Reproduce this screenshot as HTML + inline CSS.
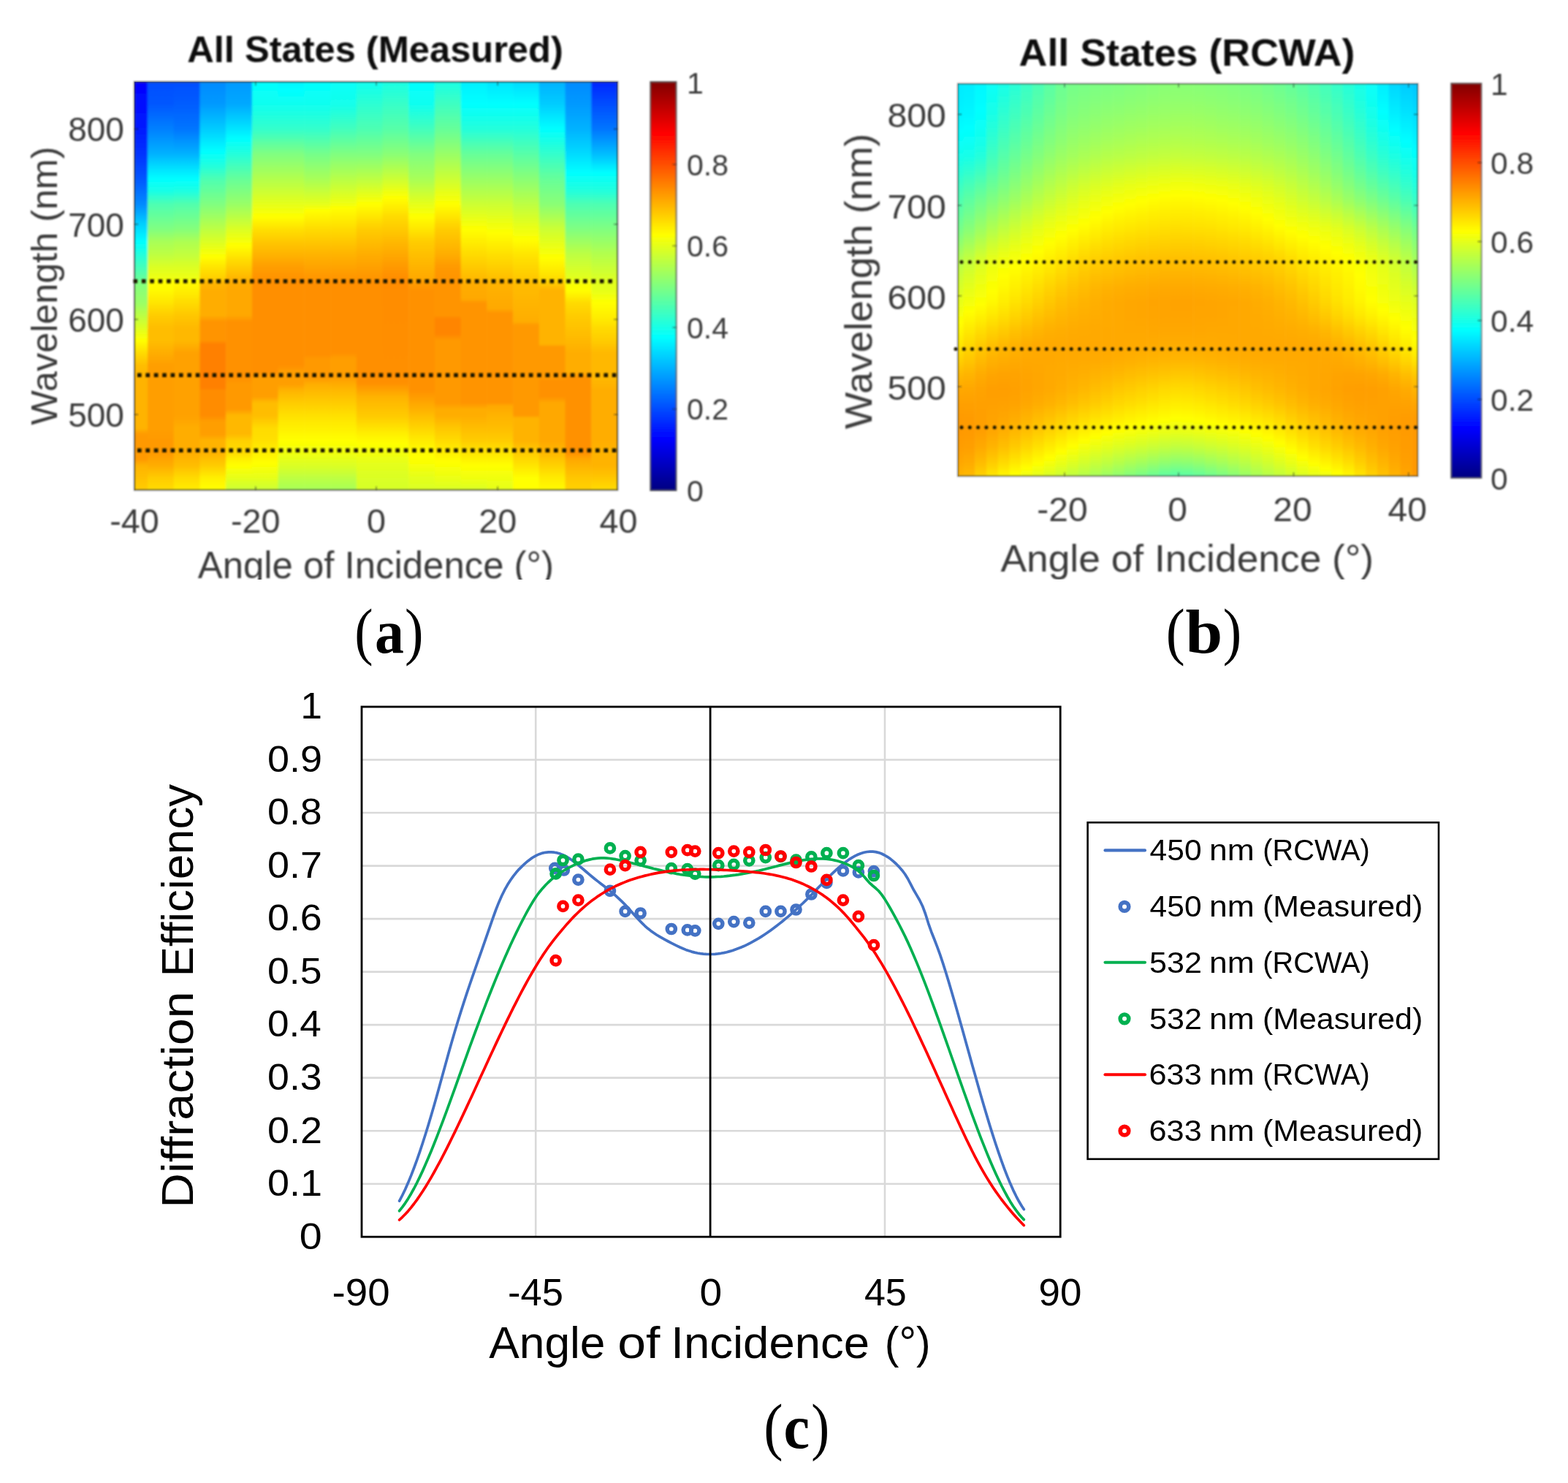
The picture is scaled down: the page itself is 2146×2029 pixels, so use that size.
<!DOCTYPE html>
<html lang="en"><head><meta charset="utf-8"><title>Diffraction efficiency figure</title>
<style>html,body{margin:0;padding:0;background:#fff}svg{display:block}text{white-space:pre}</style></head>
<body><svg width="2146" height="2029" viewBox="0 0 2146 2029">
<rect width="2146" height="2029" fill="#fff"/>
<defs><filter id="bl" x="-5%" y="-5%" width="110%" height="110%"><feGaussianBlur stdDeviation="1.6"/></filter>
<filter id="bt" x="-10%" y="-30%" width="120%" height="160%"><feGaussianBlur stdDeviation="0.9"/></filter>
<filter id="bf" x="-3%" y="-3%" width="106%" height="106%"><feGaussianBlur stdDeviation="0.9"/></filter>
<filter id="bg" x="-3%" y="-3%" width="106%" height="106%"><feGaussianBlur stdDeviation="0.8"/></filter>
<linearGradient id="jet" x1="0" y1="1" x2="0" y2="0"><stop offset="0" stop-color="#000080"/><stop offset="0.125" stop-color="#0000ff"/><stop offset="0.375" stop-color="#00ffff"/><stop offset="0.625" stop-color="#ffff00"/><stop offset="0.875" stop-color="#ff0000"/><stop offset="1" stop-color="#800000"/></linearGradient>
<clipPath id="ca"><rect x="184.0" y="112.0" width="661.2" height="558.4"/></clipPath>
<linearGradient id="a0" gradientUnits="userSpaceOnUse" x1="0" y1="100.0" x2="0" y2="682.4"><stop offset="0" stop-color="#0000ff"/><stop offset="0.0202" stop-color="#0000ff"/><stop offset="0.1314" stop-color="#001aff"/><stop offset="0.1903" stop-color="#0033ff"/><stop offset="0.2491" stop-color="#0057ff"/><stop offset="0.308" stop-color="#008aff"/><stop offset="0.3521" stop-color="#00ccff"/><stop offset="0.3963" stop-color="#00ffff"/><stop offset="0.4404" stop-color="#33ffcc"/><stop offset="0.4846" stop-color="#66ff99"/><stop offset="0.489" stop-color="#80ff80"/><stop offset="0.5396" stop-color="#99ff66"/><stop offset="0.5838" stop-color="#ccff33"/><stop offset="0.6279" stop-color="#ffff00"/><stop offset="0.6573" stop-color="#ffdb00"/><stop offset="0.6868" stop-color="#ffbd00"/><stop offset="0.7162" stop-color="#ffb300"/><stop offset="0.8339" stop-color="#ffb300"/><stop offset="0.8486" stop-color="#ff9900"/><stop offset="0.9075" stop-color="#ff9900"/><stop offset="0.9222" stop-color="#ffb300"/><stop offset="0.9781" stop-color="#ffcc00"/><stop offset="1" stop-color="#ffcc00"/></linearGradient>
<linearGradient id="a1" gradientUnits="userSpaceOnUse" x1="0" y1="100.0" x2="0" y2="682.4"><stop offset="0" stop-color="#004dff"/><stop offset="0.0202" stop-color="#004dff"/><stop offset="0.0726" stop-color="#0057ff"/><stop offset="0.1314" stop-color="#0080ff"/><stop offset="0.1903" stop-color="#00b2ff"/><stop offset="0.2197" stop-color="#00dbff"/><stop offset="0.2491" stop-color="#00ffff"/><stop offset="0.2786" stop-color="#1affe5"/><stop offset="0.308" stop-color="#4dffb2"/><stop offset="0.3669" stop-color="#80ff80"/><stop offset="0.3963" stop-color="#a8ff57"/><stop offset="0.4257" stop-color="#bdff42"/><stop offset="0.4551" stop-color="#dbff24"/><stop offset="0.4846" stop-color="#f0ff0f"/><stop offset="0.489" stop-color="#ffff00"/><stop offset="0.5102" stop-color="#fffa00"/><stop offset="0.5396" stop-color="#ffe500"/><stop offset="0.569" stop-color="#ffcc00"/><stop offset="0.5985" stop-color="#ffbd00"/><stop offset="0.6279" stop-color="#ffbd00"/><stop offset="0.6573" stop-color="#ffad00"/><stop offset="0.6868" stop-color="#ff9e00"/><stop offset="0.8339" stop-color="#ff9e00"/><stop offset="0.8633" stop-color="#ff9900"/><stop offset="0.8927" stop-color="#ff9900"/><stop offset="0.9222" stop-color="#ffad00"/><stop offset="0.9516" stop-color="#ffcc00"/><stop offset="0.9781" stop-color="#ffdb00"/><stop offset="1" stop-color="#ffdb00"/></linearGradient>
<linearGradient id="a2" gradientUnits="userSpaceOnUse" x1="0" y1="100.0" x2="0" y2="682.4"><stop offset="0" stop-color="#004dff"/><stop offset="0.0202" stop-color="#004dff"/><stop offset="0.0726" stop-color="#005cff"/><stop offset="0.1314" stop-color="#0075ff"/><stop offset="0.1903" stop-color="#00b2ff"/><stop offset="0.2197" stop-color="#00dbff"/><stop offset="0.2491" stop-color="#00ffff"/><stop offset="0.2786" stop-color="#1fffe0"/><stop offset="0.308" stop-color="#52ffad"/><stop offset="0.3669" stop-color="#85ff7a"/><stop offset="0.3963" stop-color="#adff52"/><stop offset="0.4257" stop-color="#c2ff3d"/><stop offset="0.4551" stop-color="#dbff24"/><stop offset="0.4846" stop-color="#f0ff0f"/><stop offset="0.4879" stop-color="#ffff00"/><stop offset="0.489" stop-color="#fffa00"/><stop offset="0.5102" stop-color="#fff000"/><stop offset="0.5396" stop-color="#ffdb00"/><stop offset="0.569" stop-color="#ffc700"/><stop offset="0.5985" stop-color="#ffb800"/><stop offset="0.6279" stop-color="#ffb800"/><stop offset="0.6573" stop-color="#ffa100"/><stop offset="0.8045" stop-color="#ffa100"/><stop offset="0.8339" stop-color="#ffad00"/><stop offset="0.8927" stop-color="#ffad00"/><stop offset="0.9222" stop-color="#ffbd00"/><stop offset="0.9516" stop-color="#ffdb00"/><stop offset="0.9781" stop-color="#ffeb00"/><stop offset="1" stop-color="#ffeb00"/></linearGradient>
<linearGradient id="a3" gradientUnits="userSpaceOnUse" x1="0" y1="100.0" x2="0" y2="682.4"><stop offset="0" stop-color="#008aff"/><stop offset="0.0202" stop-color="#008aff"/><stop offset="0.0726" stop-color="#0099ff"/><stop offset="0.1314" stop-color="#00ccff"/><stop offset="0.1844" stop-color="#00ffff"/><stop offset="0.2197" stop-color="#24ffdb"/><stop offset="0.2491" stop-color="#4dffb2"/><stop offset="0.308" stop-color="#80ff80"/><stop offset="0.3669" stop-color="#bdff42"/><stop offset="0.3963" stop-color="#dbff24"/><stop offset="0.4316" stop-color="#ffff00"/><stop offset="0.4551" stop-color="#ffe500"/><stop offset="0.4846" stop-color="#ffcc00"/><stop offset="0.489" stop-color="#ffb800"/><stop offset="0.5102" stop-color="#ffad00"/><stop offset="0.569" stop-color="#ffad00"/><stop offset="0.5838" stop-color="#ff9400"/><stop offset="0.6279" stop-color="#ff9400"/><stop offset="0.6367" stop-color="#ff8000"/><stop offset="0.7397" stop-color="#ff8000"/><stop offset="0.7456" stop-color="#ff8c00"/><stop offset="0.8045" stop-color="#ff8c00"/><stop offset="0.8192" stop-color="#ff9e00"/><stop offset="0.8486" stop-color="#ff9e00"/><stop offset="0.8633" stop-color="#ffb300"/><stop offset="0.8927" stop-color="#ffb300"/><stop offset="0.9222" stop-color="#ffcc00"/><stop offset="0.9516" stop-color="#fff000"/><stop offset="0.9781" stop-color="#ffff00"/><stop offset="1" stop-color="#ffff00"/></linearGradient>
<linearGradient id="a4" gradientUnits="userSpaceOnUse" x1="0" y1="100.0" x2="0" y2="682.4"><stop offset="0" stop-color="#0099ff"/><stop offset="0.0202" stop-color="#0099ff"/><stop offset="0.0726" stop-color="#00a8ff"/><stop offset="0.1314" stop-color="#00e5ff"/><stop offset="0.155" stop-color="#00ffff"/><stop offset="0.1903" stop-color="#24ffdb"/><stop offset="0.2491" stop-color="#66ff99"/><stop offset="0.308" stop-color="#99ff66"/><stop offset="0.3669" stop-color="#dbff24"/><stop offset="0.4051" stop-color="#ffff00"/><stop offset="0.4404" stop-color="#ffdb00"/><stop offset="0.4846" stop-color="#ffb300"/><stop offset="0.489" stop-color="#ffad00"/><stop offset="0.5102" stop-color="#ffa800"/><stop offset="0.569" stop-color="#ffa800"/><stop offset="0.5838" stop-color="#ff9100"/><stop offset="0.7162" stop-color="#ff9100"/><stop offset="0.7309" stop-color="#ff9900"/><stop offset="0.7897" stop-color="#ff9900"/><stop offset="0.8045" stop-color="#ffb800"/><stop offset="0.8486" stop-color="#ffb800"/><stop offset="0.8633" stop-color="#ffd100"/><stop offset="0.8927" stop-color="#ffdb00"/><stop offset="0.9075" stop-color="#fff000"/><stop offset="0.9222" stop-color="#ffff00"/><stop offset="0.9516" stop-color="#e5ff1a"/><stop offset="0.9781" stop-color="#ccff33"/><stop offset="1" stop-color="#ccff33"/></linearGradient>
<linearGradient id="a5" gradientUnits="userSpaceOnUse" x1="0" y1="100.0" x2="0" y2="682.4"><stop offset="0" stop-color="#00ffff"/><stop offset="0.0202" stop-color="#00ffff"/><stop offset="0.0726" stop-color="#0ffff0"/><stop offset="0.1314" stop-color="#33ffcc"/><stop offset="0.1903" stop-color="#80ff80"/><stop offset="0.2491" stop-color="#b3ff4c"/><stop offset="0.2786" stop-color="#ccff33"/><stop offset="0.308" stop-color="#e5ff1a"/><stop offset="0.3374" stop-color="#ffff00"/><stop offset="0.3669" stop-color="#ffe000"/><stop offset="0.3963" stop-color="#ffc700"/><stop offset="0.4257" stop-color="#ffb300"/><stop offset="0.4551" stop-color="#ff9e00"/><stop offset="0.4846" stop-color="#ff9100"/><stop offset="0.489" stop-color="#ff8f00"/><stop offset="0.7015" stop-color="#ff8f00"/><stop offset="0.7162" stop-color="#ff9e00"/><stop offset="0.7603" stop-color="#ff9e00"/><stop offset="0.775" stop-color="#ffbd00"/><stop offset="0.8045" stop-color="#ffbd00"/><stop offset="0.8339" stop-color="#ffdb00"/><stop offset="0.8633" stop-color="#ffe000"/><stop offset="0.8927" stop-color="#fff000"/><stop offset="0.9163" stop-color="#ffff00"/><stop offset="0.9516" stop-color="#e5ff1a"/><stop offset="0.9781" stop-color="#ccff33"/><stop offset="1" stop-color="#ccff33"/></linearGradient>
<linearGradient id="a6" gradientUnits="userSpaceOnUse" x1="0" y1="100.0" x2="0" y2="682.4"><stop offset="0" stop-color="#00f5ff"/><stop offset="0.0202" stop-color="#00f5ff"/><stop offset="0.0412" stop-color="#00ffff"/><stop offset="0.0726" stop-color="#0ffff0"/><stop offset="0.1314" stop-color="#33ffcc"/><stop offset="0.1903" stop-color="#80ff80"/><stop offset="0.2491" stop-color="#b3ff4c"/><stop offset="0.2786" stop-color="#ccff33"/><stop offset="0.308" stop-color="#e5ff1a"/><stop offset="0.3374" stop-color="#ffff00"/><stop offset="0.3669" stop-color="#ffe000"/><stop offset="0.3963" stop-color="#ffc700"/><stop offset="0.4257" stop-color="#ffb300"/><stop offset="0.4551" stop-color="#ff9e00"/><stop offset="0.4846" stop-color="#ff9100"/><stop offset="0.489" stop-color="#ff8f00"/><stop offset="0.6868" stop-color="#ff8f00"/><stop offset="0.7015" stop-color="#ff9e00"/><stop offset="0.7309" stop-color="#ff9e00"/><stop offset="0.7456" stop-color="#ffb300"/><stop offset="0.775" stop-color="#ffcc00"/><stop offset="0.8045" stop-color="#ffe000"/><stop offset="0.8339" stop-color="#fff000"/><stop offset="0.8633" stop-color="#ffff00"/><stop offset="0.8927" stop-color="#f0ff0f"/><stop offset="0.9222" stop-color="#dbff24"/><stop offset="0.9516" stop-color="#bdff42"/><stop offset="0.9781" stop-color="#a8ff57"/><stop offset="1" stop-color="#a8ff57"/></linearGradient>
<linearGradient id="a7" gradientUnits="userSpaceOnUse" x1="0" y1="100.0" x2="0" y2="682.4"><stop offset="0" stop-color="#00ffff"/><stop offset="0.0202" stop-color="#00ffff"/><stop offset="0.0726" stop-color="#0ffff0"/><stop offset="0.1314" stop-color="#33ffcc"/><stop offset="0.1903" stop-color="#75ff8a"/><stop offset="0.2491" stop-color="#a8ff57"/><stop offset="0.308" stop-color="#e5ff1a"/><stop offset="0.3227" stop-color="#ffff00"/><stop offset="0.3669" stop-color="#ffdb00"/><stop offset="0.4257" stop-color="#ffb300"/><stop offset="0.4846" stop-color="#ff9400"/><stop offset="0.489" stop-color="#ff8f00"/><stop offset="0.6632" stop-color="#ff8f00"/><stop offset="0.672" stop-color="#ff9900"/><stop offset="0.7162" stop-color="#ff9900"/><stop offset="0.7309" stop-color="#ffad00"/><stop offset="0.7456" stop-color="#ffb800"/><stop offset="0.775" stop-color="#ffcc00"/><stop offset="0.8045" stop-color="#ffe000"/><stop offset="0.8339" stop-color="#fff000"/><stop offset="0.8633" stop-color="#ffff00"/><stop offset="0.8927" stop-color="#f0ff0f"/><stop offset="0.9222" stop-color="#dbff24"/><stop offset="0.9516" stop-color="#bdff42"/><stop offset="0.9781" stop-color="#a8ff57"/><stop offset="1" stop-color="#a8ff57"/></linearGradient>
<linearGradient id="a8" gradientUnits="userSpaceOnUse" x1="0" y1="100.0" x2="0" y2="682.4"><stop offset="0" stop-color="#05fffa"/><stop offset="0.0202" stop-color="#05fffa"/><stop offset="0.0726" stop-color="#14ffeb"/><stop offset="0.1314" stop-color="#42ffbd"/><stop offset="0.1903" stop-color="#80ff80"/><stop offset="0.2491" stop-color="#b8ff47"/><stop offset="0.308" stop-color="#f0ff0f"/><stop offset="0.3168" stop-color="#ffff00"/><stop offset="0.3669" stop-color="#ffdb00"/><stop offset="0.4257" stop-color="#ffb300"/><stop offset="0.4846" stop-color="#ff9400"/><stop offset="0.489" stop-color="#ff8f00"/><stop offset="0.6573" stop-color="#ff8f00"/><stop offset="0.672" stop-color="#ff9e00"/><stop offset="0.7162" stop-color="#ff9e00"/><stop offset="0.7456" stop-color="#ffb800"/><stop offset="0.775" stop-color="#ffcc00"/><stop offset="0.8045" stop-color="#ffe000"/><stop offset="0.8339" stop-color="#fff000"/><stop offset="0.8633" stop-color="#ffff00"/><stop offset="0.8927" stop-color="#f0ff0f"/><stop offset="0.9222" stop-color="#dbff24"/><stop offset="0.9516" stop-color="#bdff42"/><stop offset="0.9781" stop-color="#a8ff57"/><stop offset="1" stop-color="#a8ff57"/></linearGradient>
<linearGradient id="a9" gradientUnits="userSpaceOnUse" x1="0" y1="100.0" x2="0" y2="682.4"><stop offset="0" stop-color="#0ffff0"/><stop offset="0.0202" stop-color="#0ffff0"/><stop offset="0.1314" stop-color="#4dffb2"/><stop offset="0.1903" stop-color="#80ff80"/><stop offset="0.2491" stop-color="#bdff42"/><stop offset="0.308" stop-color="#ffff00"/><stop offset="0.3669" stop-color="#ffcc00"/><stop offset="0.4257" stop-color="#ffad00"/><stop offset="0.4846" stop-color="#ff9400"/><stop offset="0.489" stop-color="#ff8f00"/><stop offset="0.728" stop-color="#ff8f00"/><stop offset="0.7612" stop-color="#ffb300"/><stop offset="0.808" stop-color="#ffcc00"/><stop offset="0.8545" stop-color="#fff500"/><stop offset="0.8701" stop-color="#ffff00"/><stop offset="0.9169" stop-color="#e5ff1a"/><stop offset="0.9481" stop-color="#dbff24"/><stop offset="0.9781" stop-color="#d6ff29"/><stop offset="1" stop-color="#d6ff29"/></linearGradient>
<linearGradient id="a10" gradientUnits="userSpaceOnUse" x1="0" y1="100.0" x2="0" y2="682.4"><stop offset="0" stop-color="#1affe5"/><stop offset="0.0202" stop-color="#1affe5"/><stop offset="0.1314" stop-color="#57ffa8"/><stop offset="0.1903" stop-color="#8aff75"/><stop offset="0.2491" stop-color="#ccff33"/><stop offset="0.2933" stop-color="#ffff00"/><stop offset="0.3374" stop-color="#ffdb00"/><stop offset="0.3963" stop-color="#ffb800"/><stop offset="0.4551" stop-color="#ff9900"/><stop offset="0.4846" stop-color="#ff8c00"/><stop offset="0.489" stop-color="#ff8c00"/><stop offset="0.728" stop-color="#ff8f00"/><stop offset="0.7612" stop-color="#ffb300"/><stop offset="0.808" stop-color="#ffcc00"/><stop offset="0.8545" stop-color="#fff500"/><stop offset="0.8701" stop-color="#ffff00"/><stop offset="0.9169" stop-color="#e5ff1a"/><stop offset="0.9481" stop-color="#dbff24"/><stop offset="0.9781" stop-color="#d6ff29"/><stop offset="1" stop-color="#d6ff29"/></linearGradient>
<linearGradient id="a11" gradientUnits="userSpaceOnUse" x1="0" y1="100.0" x2="0" y2="682.4"><stop offset="0" stop-color="#00ffff"/><stop offset="0.0202" stop-color="#00ffff"/><stop offset="0.0726" stop-color="#0ffff0"/><stop offset="0.1314" stop-color="#42ffbd"/><stop offset="0.1903" stop-color="#80ff80"/><stop offset="0.2491" stop-color="#a8ff57"/><stop offset="0.308" stop-color="#e5ff1a"/><stop offset="0.3374" stop-color="#ffff00"/><stop offset="0.3963" stop-color="#ffcc00"/><stop offset="0.4551" stop-color="#ffb300"/><stop offset="0.4846" stop-color="#ffa800"/><stop offset="0.489" stop-color="#ff9e00"/><stop offset="0.5102" stop-color="#ff9100"/><stop offset="0.7456" stop-color="#ff9100"/><stop offset="0.7924" stop-color="#ffb300"/><stop offset="0.8236" stop-color="#ffcc00"/><stop offset="0.8545" stop-color="#ffe500"/><stop offset="0.8857" stop-color="#fffa00"/><stop offset="0.9013" stop-color="#ffff00"/><stop offset="0.9169" stop-color="#faff05"/><stop offset="0.9481" stop-color="#e5ff1a"/><stop offset="0.9781" stop-color="#dbff24"/><stop offset="1" stop-color="#dbff24"/></linearGradient>
<linearGradient id="a12" gradientUnits="userSpaceOnUse" x1="0" y1="100.0" x2="0" y2="682.4"><stop offset="0" stop-color="#1affe5"/><stop offset="0.0202" stop-color="#1affe5"/><stop offset="0.1314" stop-color="#66ff99"/><stop offset="0.1903" stop-color="#99ff66"/><stop offset="0.2491" stop-color="#ccff33"/><stop offset="0.308" stop-color="#ffff00"/><stop offset="0.3669" stop-color="#ffcc00"/><stop offset="0.4257" stop-color="#ffad00"/><stop offset="0.4551" stop-color="#ff9900"/><stop offset="0.4846" stop-color="#ff9400"/><stop offset="0.489" stop-color="#ff9400"/><stop offset="0.569" stop-color="#ff9400"/><stop offset="0.5779" stop-color="#ff8500"/><stop offset="0.6132" stop-color="#ff8500"/><stop offset="0.6279" stop-color="#ff9900"/><stop offset="0.775" stop-color="#ff9900"/><stop offset="0.7897" stop-color="#ffad00"/><stop offset="0.8045" stop-color="#ffad00"/><stop offset="0.8339" stop-color="#ffc700"/><stop offset="0.8633" stop-color="#ffdb00"/><stop offset="0.8927" stop-color="#fff000"/><stop offset="0.9133" stop-color="#ffff00"/><stop offset="0.9516" stop-color="#ebff14"/><stop offset="0.9781" stop-color="#dbff24"/><stop offset="1" stop-color="#dbff24"/></linearGradient>
<linearGradient id="a13" gradientUnits="userSpaceOnUse" x1="0" y1="100.0" x2="0" y2="682.4"><stop offset="0" stop-color="#00f0ff"/><stop offset="0.0202" stop-color="#00f0ff"/><stop offset="0.0726" stop-color="#00ffff"/><stop offset="0.1314" stop-color="#24ffdb"/><stop offset="0.1903" stop-color="#66ff99"/><stop offset="0.2491" stop-color="#99ff66"/><stop offset="0.308" stop-color="#ccff33"/><stop offset="0.3669" stop-color="#ffff00"/><stop offset="0.4257" stop-color="#ffdb00"/><stop offset="0.4846" stop-color="#ffb800"/><stop offset="0.489" stop-color="#ffad00"/><stop offset="0.5308" stop-color="#ffa800"/><stop offset="0.5396" stop-color="#ff9400"/><stop offset="0.775" stop-color="#ff9400"/><stop offset="0.7897" stop-color="#ffad00"/><stop offset="0.8045" stop-color="#ffad00"/><stop offset="0.8339" stop-color="#ffbd00"/><stop offset="0.8633" stop-color="#ffcc00"/><stop offset="0.8927" stop-color="#ffe500"/><stop offset="0.9222" stop-color="#ffff00"/><stop offset="0.9516" stop-color="#f0ff0f"/><stop offset="0.9781" stop-color="#dbff24"/><stop offset="1" stop-color="#dbff24"/></linearGradient>
<linearGradient id="a14" gradientUnits="userSpaceOnUse" x1="0" y1="100.0" x2="0" y2="682.4"><stop offset="0" stop-color="#00e5ff"/><stop offset="0.0202" stop-color="#00e5ff"/><stop offset="0.0726" stop-color="#00ffff"/><stop offset="0.1314" stop-color="#24ffdb"/><stop offset="0.1903" stop-color="#66ff99"/><stop offset="0.2491" stop-color="#99ff66"/><stop offset="0.308" stop-color="#ccff33"/><stop offset="0.3757" stop-color="#ffff00"/><stop offset="0.4257" stop-color="#ffe000"/><stop offset="0.4846" stop-color="#ffbd00"/><stop offset="0.489" stop-color="#ffb300"/><stop offset="0.5543" stop-color="#ffa800"/><stop offset="0.5632" stop-color="#ff9400"/><stop offset="0.775" stop-color="#ff9400"/><stop offset="0.7809" stop-color="#ffa800"/><stop offset="0.8045" stop-color="#ffb300"/><stop offset="0.8339" stop-color="#ffbd00"/><stop offset="0.8633" stop-color="#ffcc00"/><stop offset="0.8927" stop-color="#ffe500"/><stop offset="0.9222" stop-color="#ffff00"/><stop offset="0.9516" stop-color="#f0ff0f"/><stop offset="0.9781" stop-color="#e5ff1a"/><stop offset="1" stop-color="#e5ff1a"/></linearGradient>
<linearGradient id="a15" gradientUnits="userSpaceOnUse" x1="0" y1="100.0" x2="0" y2="682.4"><stop offset="0" stop-color="#00dbff"/><stop offset="0.0202" stop-color="#00dbff"/><stop offset="0.0726" stop-color="#00ffff"/><stop offset="0.1314" stop-color="#24ffdb"/><stop offset="0.1903" stop-color="#57ffa8"/><stop offset="0.2491" stop-color="#8aff75"/><stop offset="0.308" stop-color="#bdff42"/><stop offset="0.3904" stop-color="#ffff00"/><stop offset="0.4257" stop-color="#ffe500"/><stop offset="0.4846" stop-color="#ffc700"/><stop offset="0.489" stop-color="#ffbd00"/><stop offset="0.5838" stop-color="#ffad00"/><stop offset="0.5926" stop-color="#ff9900"/><stop offset="0.8045" stop-color="#ff9900"/><stop offset="0.8103" stop-color="#ffb300"/><stop offset="0.8633" stop-color="#ffb300"/><stop offset="0.8927" stop-color="#ffcc00"/><stop offset="0.9222" stop-color="#ffe500"/><stop offset="0.9516" stop-color="#ffff00"/><stop offset="0.9781" stop-color="#ffff00"/><stop offset="1" stop-color="#ffff00"/></linearGradient>
<linearGradient id="a16" gradientUnits="userSpaceOnUse" x1="0" y1="100.0" x2="0" y2="682.4"><stop offset="0" stop-color="#00b2ff"/><stop offset="0.0202" stop-color="#00b2ff"/><stop offset="0.0726" stop-color="#00ccff"/><stop offset="0.1314" stop-color="#00ffff"/><stop offset="0.1903" stop-color="#33ffcc"/><stop offset="0.2491" stop-color="#66ff99"/><stop offset="0.308" stop-color="#8aff75"/><stop offset="0.3669" stop-color="#ccff33"/><stop offset="0.4345" stop-color="#ffff00"/><stop offset="0.4846" stop-color="#ffdb00"/><stop offset="0.489" stop-color="#ffd100"/><stop offset="0.5102" stop-color="#ffb300"/><stop offset="0.6367" stop-color="#ffb300"/><stop offset="0.6426" stop-color="#ff9900"/><stop offset="0.7162" stop-color="#ff9900"/><stop offset="0.7221" stop-color="#ff9100"/><stop offset="0.7603" stop-color="#ff9100"/><stop offset="0.775" stop-color="#ffa800"/><stop offset="0.8633" stop-color="#ffa800"/><stop offset="0.8927" stop-color="#ffb800"/><stop offset="0.9222" stop-color="#ffd100"/><stop offset="0.9516" stop-color="#ffeb00"/><stop offset="0.9781" stop-color="#fffa00"/><stop offset="1" stop-color="#fffa00"/></linearGradient>
<linearGradient id="a17" gradientUnits="userSpaceOnUse" x1="0" y1="100.0" x2="0" y2="682.4"><stop offset="0" stop-color="#008aff"/><stop offset="0.0202" stop-color="#008aff"/><stop offset="0.0726" stop-color="#0099ff"/><stop offset="0.1314" stop-color="#00b2ff"/><stop offset="0.1903" stop-color="#00dbff"/><stop offset="0.2344" stop-color="#00ffff"/><stop offset="0.2786" stop-color="#24ffdb"/><stop offset="0.308" stop-color="#4dffb2"/><stop offset="0.3669" stop-color="#80ff80"/><stop offset="0.4257" stop-color="#bdff42"/><stop offset="0.4846" stop-color="#e5ff1a"/><stop offset="0.489" stop-color="#f5ff0a"/><stop offset="0.5102" stop-color="#ffff00"/><stop offset="0.5396" stop-color="#ffdb00"/><stop offset="0.569" stop-color="#ffcc00"/><stop offset="0.6279" stop-color="#ffb800"/><stop offset="0.6573" stop-color="#ffad00"/><stop offset="0.7015" stop-color="#ffad00"/><stop offset="0.7162" stop-color="#ff9100"/><stop offset="0.8927" stop-color="#ff9100"/><stop offset="0.9075" stop-color="#ffa800"/><stop offset="0.9222" stop-color="#ffb300"/><stop offset="0.9516" stop-color="#ffc700"/><stop offset="0.9781" stop-color="#ffd100"/><stop offset="1" stop-color="#ffd100"/></linearGradient>
<linearGradient id="a18" gradientUnits="userSpaceOnUse" x1="0" y1="100.0" x2="0" y2="682.4"><stop offset="0" stop-color="#0024ff"/><stop offset="0.0202" stop-color="#0024ff"/><stop offset="0.0726" stop-color="#004dff"/><stop offset="0.1314" stop-color="#0075ff"/><stop offset="0.1903" stop-color="#00bdff"/><stop offset="0.2344" stop-color="#00ffff"/><stop offset="0.2786" stop-color="#24ffdb"/><stop offset="0.308" stop-color="#4dffb2"/><stop offset="0.3669" stop-color="#80ff80"/><stop offset="0.4257" stop-color="#b3ff4c"/><stop offset="0.4846" stop-color="#dbff24"/><stop offset="0.489" stop-color="#e0ff1f"/><stop offset="0.5102" stop-color="#e5ff1a"/><stop offset="0.5396" stop-color="#ffff00"/><stop offset="0.569" stop-color="#fff000"/><stop offset="0.5985" stop-color="#ffdb00"/><stop offset="0.6279" stop-color="#ffcc00"/><stop offset="0.6573" stop-color="#ffb800"/><stop offset="0.7162" stop-color="#ffb800"/><stop offset="0.7456" stop-color="#ffad00"/><stop offset="0.8633" stop-color="#ffad00"/><stop offset="0.8927" stop-color="#ffb300"/><stop offset="0.9222" stop-color="#ffb300"/><stop offset="0.9516" stop-color="#ffc700"/><stop offset="0.9781" stop-color="#ffdb00"/><stop offset="1" stop-color="#ffdb00"/></linearGradient>
<clipPath id="cl"><rect x="0" y="0" width="2146" height="793"/></clipPath>
<clipPath id="cb"><rect x="1311.0" y="114.6" width="629.4" height="536.8"/></clipPath>
<linearGradient id="b0" gradientUnits="userSpaceOnUse" x1="0" y1="102.6" x2="0" y2="663.4"><stop offset="0" stop-color="#00ebff"/><stop offset="0.0221" stop-color="#00ebff"/><stop offset="0.0575" stop-color="#00eeff"/><stop offset="0.0929" stop-color="#00f4ff"/><stop offset="0.1283" stop-color="#00fcff"/><stop offset="0.1376" stop-color="#00ffff"/><stop offset="0.1637" stop-color="#07fff8"/><stop offset="0.1991" stop-color="#14ffeb"/><stop offset="0.2346" stop-color="#26ffd9"/><stop offset="0.27" stop-color="#3bffc4"/><stop offset="0.3054" stop-color="#4fffb0"/><stop offset="0.3408" stop-color="#62ff9d"/><stop offset="0.3762" stop-color="#77ff88"/><stop offset="0.4116" stop-color="#93ff6c"/><stop offset="0.4471" stop-color="#b1ff4e"/><stop offset="0.4825" stop-color="#c7ff38"/><stop offset="0.5179" stop-color="#d8ff27"/><stop offset="0.5533" stop-color="#e8ff17"/><stop offset="0.5887" stop-color="#f8ff07"/><stop offset="0.6034" stop-color="#ffff00"/><stop offset="0.6241" stop-color="#fff600"/><stop offset="0.6596" stop-color="#ffe500"/><stop offset="0.695" stop-color="#ffd000"/><stop offset="0.7304" stop-color="#ffb900"/><stop offset="0.7658" stop-color="#ffa800"/><stop offset="0.8012" stop-color="#ffa000"/><stop offset="0.8366" stop-color="#ff9a00"/><stop offset="0.8721" stop-color="#ff9900"/><stop offset="0.9075" stop-color="#ff9d00"/><stop offset="0.9429" stop-color="#ffa600"/><stop offset="0.9783" stop-color="#ffb300"/><stop offset="1" stop-color="#ffb300"/></linearGradient>
<linearGradient id="b1" gradientUnits="userSpaceOnUse" x1="0" y1="102.6" x2="0" y2="663.4"><stop offset="0" stop-color="#00eeff"/><stop offset="0.0221" stop-color="#00eeff"/><stop offset="0.0575" stop-color="#00f1ff"/><stop offset="0.0929" stop-color="#00f6ff"/><stop offset="0.1283" stop-color="#00ffff"/><stop offset="0.1284" stop-color="#00ffff"/><stop offset="0.1637" stop-color="#0afff5"/><stop offset="0.1991" stop-color="#18ffe7"/><stop offset="0.2346" stop-color="#2fffd0"/><stop offset="0.27" stop-color="#48ffb7"/><stop offset="0.3054" stop-color="#5effa1"/><stop offset="0.3408" stop-color="#72ff8d"/><stop offset="0.3762" stop-color="#88ff77"/><stop offset="0.4116" stop-color="#a4ff5b"/><stop offset="0.4471" stop-color="#c1ff3e"/><stop offset="0.4825" stop-color="#d5ff2a"/><stop offset="0.5179" stop-color="#e4ff1b"/><stop offset="0.5533" stop-color="#f3ff0c"/><stop offset="0.5774" stop-color="#ffff00"/><stop offset="0.5887" stop-color="#fffa00"/><stop offset="0.6241" stop-color="#ffe800"/><stop offset="0.6596" stop-color="#ffd700"/><stop offset="0.695" stop-color="#ffc600"/><stop offset="0.7304" stop-color="#ffb400"/><stop offset="0.7658" stop-color="#ffa700"/><stop offset="0.8012" stop-color="#ffa000"/><stop offset="0.8366" stop-color="#ff9b00"/><stop offset="0.8721" stop-color="#ff9a00"/><stop offset="0.9075" stop-color="#ff9f00"/><stop offset="0.9429" stop-color="#ffaa00"/><stop offset="0.9783" stop-color="#ffb900"/><stop offset="1" stop-color="#ffb900"/></linearGradient>
<linearGradient id="b2" gradientUnits="userSpaceOnUse" x1="0" y1="102.6" x2="0" y2="663.4"><stop offset="0" stop-color="#00f8ff"/><stop offset="0.0221" stop-color="#00f8ff"/><stop offset="0.0575" stop-color="#00fbff"/><stop offset="0.0828" stop-color="#00ffff"/><stop offset="0.0929" stop-color="#02fffd"/><stop offset="0.1283" stop-color="#0bfff4"/><stop offset="0.1637" stop-color="#15ffea"/><stop offset="0.1991" stop-color="#24ffdb"/><stop offset="0.2346" stop-color="#3cffc3"/><stop offset="0.27" stop-color="#57ffa8"/><stop offset="0.3054" stop-color="#6fff90"/><stop offset="0.3408" stop-color="#85ff7a"/><stop offset="0.3762" stop-color="#9cff63"/><stop offset="0.4116" stop-color="#b8ff47"/><stop offset="0.4471" stop-color="#d4ff2b"/><stop offset="0.4825" stop-color="#e4ff1b"/><stop offset="0.5179" stop-color="#f0ff0f"/><stop offset="0.5533" stop-color="#fcff03"/><stop offset="0.5591" stop-color="#ffff00"/><stop offset="0.5887" stop-color="#fff100"/><stop offset="0.6241" stop-color="#ffdd00"/><stop offset="0.6596" stop-color="#ffca00"/><stop offset="0.695" stop-color="#ffba00"/><stop offset="0.7304" stop-color="#ffab00"/><stop offset="0.7658" stop-color="#ffa300"/><stop offset="0.8012" stop-color="#ffa000"/><stop offset="0.8366" stop-color="#ff9f00"/><stop offset="0.8721" stop-color="#ff9f00"/><stop offset="0.9075" stop-color="#ffa900"/><stop offset="0.9429" stop-color="#ffba00"/><stop offset="0.9783" stop-color="#ffd100"/><stop offset="1" stop-color="#ffd100"/></linearGradient>
<linearGradient id="b3" gradientUnits="userSpaceOnUse" x1="0" y1="102.6" x2="0" y2="663.4"><stop offset="0" stop-color="#07fff8"/><stop offset="0.0221" stop-color="#07fff8"/><stop offset="0.0575" stop-color="#0ffff0"/><stop offset="0.0929" stop-color="#18ffe7"/><stop offset="0.1283" stop-color="#24ffdb"/><stop offset="0.1637" stop-color="#31ffce"/><stop offset="0.1991" stop-color="#41ffbe"/><stop offset="0.2346" stop-color="#54ffab"/><stop offset="0.27" stop-color="#6aff95"/><stop offset="0.3054" stop-color="#80ff7f"/><stop offset="0.3408" stop-color="#98ff67"/><stop offset="0.3762" stop-color="#b0ff4f"/><stop offset="0.4116" stop-color="#ccff33"/><stop offset="0.4471" stop-color="#e5ff1a"/><stop offset="0.4825" stop-color="#f3ff0c"/><stop offset="0.5179" stop-color="#fcff03"/><stop offset="0.5282" stop-color="#ffff00"/><stop offset="0.5533" stop-color="#fff800"/><stop offset="0.5887" stop-color="#ffe700"/><stop offset="0.6241" stop-color="#ffd200"/><stop offset="0.6596" stop-color="#ffbf00"/><stop offset="0.695" stop-color="#ffb100"/><stop offset="0.7304" stop-color="#ffa500"/><stop offset="0.7658" stop-color="#ff9f00"/><stop offset="0.8012" stop-color="#ffa000"/><stop offset="0.8366" stop-color="#ffa300"/><stop offset="0.8721" stop-color="#ffa700"/><stop offset="0.9075" stop-color="#ffb400"/><stop offset="0.9429" stop-color="#ffca00"/><stop offset="0.9783" stop-color="#ffe500"/><stop offset="1" stop-color="#ffe500"/></linearGradient>
<linearGradient id="b4" gradientUnits="userSpaceOnUse" x1="0" y1="102.6" x2="0" y2="663.4"><stop offset="0" stop-color="#17ffe8"/><stop offset="0.0221" stop-color="#17ffe8"/><stop offset="0.0575" stop-color="#21ffde"/><stop offset="0.0929" stop-color="#2dffd2"/><stop offset="0.1283" stop-color="#39ffc6"/><stop offset="0.1637" stop-color="#47ffb8"/><stop offset="0.1991" stop-color="#56ffa9"/><stop offset="0.2346" stop-color="#67ff98"/><stop offset="0.27" stop-color="#7aff85"/><stop offset="0.3054" stop-color="#8fff70"/><stop offset="0.3408" stop-color="#a7ff58"/><stop offset="0.3762" stop-color="#c0ff3f"/><stop offset="0.4116" stop-color="#d9ff26"/><stop offset="0.4471" stop-color="#efff10"/><stop offset="0.4825" stop-color="#fdff02"/><stop offset="0.4902" stop-color="#ffff00"/><stop offset="0.5179" stop-color="#fff800"/><stop offset="0.5533" stop-color="#ffed00"/><stop offset="0.5887" stop-color="#ffde00"/><stop offset="0.6241" stop-color="#ffca00"/><stop offset="0.6596" stop-color="#ffb800"/><stop offset="0.695" stop-color="#ffad00"/><stop offset="0.7304" stop-color="#ffa300"/><stop offset="0.7658" stop-color="#ff9e00"/><stop offset="0.8012" stop-color="#ffa100"/><stop offset="0.8366" stop-color="#ffa600"/><stop offset="0.8721" stop-color="#ffaf00"/><stop offset="0.9075" stop-color="#ffbf00"/><stop offset="0.9429" stop-color="#ffd800"/><stop offset="0.9783" stop-color="#fff600"/><stop offset="1" stop-color="#fff600"/></linearGradient>
<linearGradient id="b5" gradientUnits="userSpaceOnUse" x1="0" y1="102.6" x2="0" y2="663.4"><stop offset="0" stop-color="#28ffd7"/><stop offset="0.0221" stop-color="#28ffd7"/><stop offset="0.0575" stop-color="#32ffcd"/><stop offset="0.0929" stop-color="#3effc1"/><stop offset="0.1283" stop-color="#4bffb4"/><stop offset="0.1637" stop-color="#58ffa7"/><stop offset="0.1991" stop-color="#67ff98"/><stop offset="0.2346" stop-color="#78ff87"/><stop offset="0.27" stop-color="#8aff75"/><stop offset="0.3054" stop-color="#9eff61"/><stop offset="0.3408" stop-color="#b7ff48"/><stop offset="0.3762" stop-color="#ceff31"/><stop offset="0.4116" stop-color="#e4ff1b"/><stop offset="0.4471" stop-color="#f6ff09"/><stop offset="0.469" stop-color="#ffff00"/><stop offset="0.4825" stop-color="#fffa00"/><stop offset="0.5179" stop-color="#ffef00"/><stop offset="0.5533" stop-color="#ffe300"/><stop offset="0.5887" stop-color="#ffd400"/><stop offset="0.6241" stop-color="#ffc100"/><stop offset="0.6596" stop-color="#ffb200"/><stop offset="0.695" stop-color="#ffaa00"/><stop offset="0.7304" stop-color="#ffa300"/><stop offset="0.7658" stop-color="#ffa000"/><stop offset="0.8012" stop-color="#ffa300"/><stop offset="0.8366" stop-color="#ffac00"/><stop offset="0.8721" stop-color="#ffb800"/><stop offset="0.9075" stop-color="#ffcb00"/><stop offset="0.9429" stop-color="#ffe500"/><stop offset="0.9723" stop-color="#ffff00"/><stop offset="0.9783" stop-color="#faff05"/><stop offset="1" stop-color="#faff05"/></linearGradient>
<linearGradient id="b6" gradientUnits="userSpaceOnUse" x1="0" y1="102.6" x2="0" y2="663.4"><stop offset="0" stop-color="#39ffc6"/><stop offset="0.0221" stop-color="#39ffc6"/><stop offset="0.0575" stop-color="#42ffbd"/><stop offset="0.0929" stop-color="#4dffb2"/><stop offset="0.1283" stop-color="#5affa5"/><stop offset="0.1637" stop-color="#67ff98"/><stop offset="0.1991" stop-color="#76ff89"/><stop offset="0.2346" stop-color="#87ff78"/><stop offset="0.27" stop-color="#99ff66"/><stop offset="0.3054" stop-color="#adff52"/><stop offset="0.3408" stop-color="#c5ff3a"/><stop offset="0.3762" stop-color="#dbff24"/><stop offset="0.4116" stop-color="#eeff11"/><stop offset="0.4471" stop-color="#feff01"/><stop offset="0.45" stop-color="#ffff00"/><stop offset="0.4825" stop-color="#fff200"/><stop offset="0.5179" stop-color="#ffe600"/><stop offset="0.5533" stop-color="#ffda00"/><stop offset="0.5887" stop-color="#ffcb00"/><stop offset="0.6241" stop-color="#ffba00"/><stop offset="0.6596" stop-color="#ffad00"/><stop offset="0.695" stop-color="#ffa800"/><stop offset="0.7304" stop-color="#ffa400"/><stop offset="0.7658" stop-color="#ffa300"/><stop offset="0.8012" stop-color="#ffa700"/><stop offset="0.8366" stop-color="#ffb300"/><stop offset="0.8721" stop-color="#ffc100"/><stop offset="0.9075" stop-color="#ffd600"/><stop offset="0.9429" stop-color="#fff000"/><stop offset="0.9594" stop-color="#ffff00"/><stop offset="0.9783" stop-color="#eeff11"/><stop offset="1" stop-color="#eeff11"/></linearGradient>
<linearGradient id="b7" gradientUnits="userSpaceOnUse" x1="0" y1="102.6" x2="0" y2="663.4"><stop offset="0" stop-color="#4affb5"/><stop offset="0.0221" stop-color="#4affb5"/><stop offset="0.0575" stop-color="#53ffac"/><stop offset="0.0929" stop-color="#5dffa2"/><stop offset="0.1283" stop-color="#69ff96"/><stop offset="0.1637" stop-color="#76ff89"/><stop offset="0.1991" stop-color="#84ff7b"/><stop offset="0.2346" stop-color="#95ff6a"/><stop offset="0.27" stop-color="#a7ff58"/><stop offset="0.3054" stop-color="#bbff44"/><stop offset="0.3408" stop-color="#d1ff2e"/><stop offset="0.3762" stop-color="#e6ff19"/><stop offset="0.4116" stop-color="#f7ff08"/><stop offset="0.4306" stop-color="#ffff00"/><stop offset="0.4471" stop-color="#fff800"/><stop offset="0.4825" stop-color="#ffea00"/><stop offset="0.5179" stop-color="#ffdd00"/><stop offset="0.5533" stop-color="#ffd000"/><stop offset="0.5887" stop-color="#ffc200"/><stop offset="0.6241" stop-color="#ffb400"/><stop offset="0.6596" stop-color="#ffaa00"/><stop offset="0.695" stop-color="#ffa800"/><stop offset="0.7304" stop-color="#ffa600"/><stop offset="0.7658" stop-color="#ffa600"/><stop offset="0.8012" stop-color="#ffac00"/><stop offset="0.8366" stop-color="#ffbb00"/><stop offset="0.8721" stop-color="#ffcb00"/><stop offset="0.9075" stop-color="#ffe100"/><stop offset="0.9429" stop-color="#fffb00"/><stop offset="0.9471" stop-color="#ffff00"/><stop offset="0.9783" stop-color="#e4ff1b"/><stop offset="1" stop-color="#e4ff1b"/></linearGradient>
<linearGradient id="b8" gradientUnits="userSpaceOnUse" x1="0" y1="102.6" x2="0" y2="663.4"><stop offset="0" stop-color="#5bffa4"/><stop offset="0.0221" stop-color="#5bffa4"/><stop offset="0.0575" stop-color="#62ff9d"/><stop offset="0.0929" stop-color="#6cff93"/><stop offset="0.1283" stop-color="#77ff88"/><stop offset="0.1637" stop-color="#83ff7c"/><stop offset="0.1991" stop-color="#91ff6e"/><stop offset="0.2346" stop-color="#a2ff5d"/><stop offset="0.27" stop-color="#b4ff4b"/><stop offset="0.3054" stop-color="#c7ff38"/><stop offset="0.3408" stop-color="#dcff23"/><stop offset="0.3762" stop-color="#efff10"/><stop offset="0.4103" stop-color="#ffff00"/><stop offset="0.4116" stop-color="#fffe00"/><stop offset="0.4471" stop-color="#fff000"/><stop offset="0.4825" stop-color="#ffe200"/><stop offset="0.5179" stop-color="#ffd300"/><stop offset="0.5533" stop-color="#ffc700"/><stop offset="0.5887" stop-color="#ffbb00"/><stop offset="0.6241" stop-color="#ffaf00"/><stop offset="0.6596" stop-color="#ffa900"/><stop offset="0.695" stop-color="#ffa800"/><stop offset="0.7304" stop-color="#ffa900"/><stop offset="0.7658" stop-color="#ffa900"/><stop offset="0.8012" stop-color="#ffb100"/><stop offset="0.8366" stop-color="#ffc200"/><stop offset="0.8721" stop-color="#ffd500"/><stop offset="0.9075" stop-color="#ffeb00"/><stop offset="0.9332" stop-color="#ffff00"/><stop offset="0.9429" stop-color="#f8ff07"/><stop offset="0.9783" stop-color="#d8ff27"/><stop offset="1" stop-color="#d8ff27"/></linearGradient>
<linearGradient id="b9" gradientUnits="userSpaceOnUse" x1="0" y1="102.6" x2="0" y2="663.4"><stop offset="0" stop-color="#6cff93"/><stop offset="0.0221" stop-color="#6cff93"/><stop offset="0.0575" stop-color="#71ff8e"/><stop offset="0.0929" stop-color="#79ff86"/><stop offset="0.1283" stop-color="#83ff7c"/><stop offset="0.1637" stop-color="#8eff71"/><stop offset="0.1991" stop-color="#9cff63"/><stop offset="0.2346" stop-color="#adff52"/><stop offset="0.27" stop-color="#bfff40"/><stop offset="0.3054" stop-color="#d2ff2d"/><stop offset="0.3408" stop-color="#e5ff1a"/><stop offset="0.3762" stop-color="#f7ff08"/><stop offset="0.3938" stop-color="#ffff00"/><stop offset="0.4116" stop-color="#fff700"/><stop offset="0.4471" stop-color="#ffe800"/><stop offset="0.4825" stop-color="#ffd900"/><stop offset="0.5179" stop-color="#ffca00"/><stop offset="0.5533" stop-color="#ffbe00"/><stop offset="0.5887" stop-color="#ffb500"/><stop offset="0.6241" stop-color="#ffad00"/><stop offset="0.6596" stop-color="#ffa900"/><stop offset="0.695" stop-color="#ffa900"/><stop offset="0.7304" stop-color="#ffaa00"/><stop offset="0.7658" stop-color="#ffad00"/><stop offset="0.8012" stop-color="#ffb700"/><stop offset="0.8366" stop-color="#ffca00"/><stop offset="0.8721" stop-color="#ffde00"/><stop offset="0.9075" stop-color="#fff600"/><stop offset="0.9189" stop-color="#ffff00"/><stop offset="0.9429" stop-color="#ecff13"/><stop offset="0.9783" stop-color="#cdff32"/><stop offset="1" stop-color="#cdff32"/></linearGradient>
<linearGradient id="b10" gradientUnits="userSpaceOnUse" x1="0" y1="102.6" x2="0" y2="663.4"><stop offset="0" stop-color="#76ff89"/><stop offset="0.0221" stop-color="#76ff89"/><stop offset="0.0575" stop-color="#7bff84"/><stop offset="0.0929" stop-color="#82ff7d"/><stop offset="0.1283" stop-color="#8cff73"/><stop offset="0.1637" stop-color="#97ff68"/><stop offset="0.1991" stop-color="#a4ff5b"/><stop offset="0.2346" stop-color="#b6ff49"/><stop offset="0.27" stop-color="#caff35"/><stop offset="0.3054" stop-color="#dcff23"/><stop offset="0.3408" stop-color="#edff12"/><stop offset="0.3762" stop-color="#feff01"/><stop offset="0.3791" stop-color="#ffff00"/><stop offset="0.4116" stop-color="#ffef00"/><stop offset="0.4471" stop-color="#ffdf00"/><stop offset="0.4825" stop-color="#ffd000"/><stop offset="0.5179" stop-color="#ffc200"/><stop offset="0.5533" stop-color="#ffb800"/><stop offset="0.5887" stop-color="#ffb100"/><stop offset="0.6241" stop-color="#ffab00"/><stop offset="0.6596" stop-color="#ffa800"/><stop offset="0.695" stop-color="#ffa900"/><stop offset="0.7304" stop-color="#ffad00"/><stop offset="0.7658" stop-color="#ffb200"/><stop offset="0.8012" stop-color="#ffbe00"/><stop offset="0.8366" stop-color="#ffd200"/><stop offset="0.8721" stop-color="#ffe800"/><stop offset="0.905" stop-color="#ffff00"/><stop offset="0.9075" stop-color="#fdff02"/><stop offset="0.9429" stop-color="#e1ff1e"/><stop offset="0.9783" stop-color="#c0ff3f"/><stop offset="1" stop-color="#c0ff3f"/></linearGradient>
<linearGradient id="b11" gradientUnits="userSpaceOnUse" x1="0" y1="102.6" x2="0" y2="663.4"><stop offset="0" stop-color="#79ff86"/><stop offset="0.0221" stop-color="#79ff86"/><stop offset="0.0575" stop-color="#7fff80"/><stop offset="0.0929" stop-color="#87ff78"/><stop offset="0.1283" stop-color="#91ff6e"/><stop offset="0.1637" stop-color="#9dff62"/><stop offset="0.1991" stop-color="#abff54"/><stop offset="0.2346" stop-color="#beff41"/><stop offset="0.27" stop-color="#d3ff2c"/><stop offset="0.3054" stop-color="#e5ff1a"/><stop offset="0.3408" stop-color="#f5ff0a"/><stop offset="0.3638" stop-color="#ffff00"/><stop offset="0.3762" stop-color="#fff900"/><stop offset="0.4116" stop-color="#ffe700"/><stop offset="0.4471" stop-color="#ffd600"/><stop offset="0.4825" stop-color="#ffc800"/><stop offset="0.5179" stop-color="#ffbc00"/><stop offset="0.5533" stop-color="#ffb300"/><stop offset="0.5887" stop-color="#ffae00"/><stop offset="0.6241" stop-color="#ffaa00"/><stop offset="0.6596" stop-color="#ffa800"/><stop offset="0.695" stop-color="#ffaa00"/><stop offset="0.7304" stop-color="#ffaf00"/><stop offset="0.7658" stop-color="#ffb700"/><stop offset="0.8012" stop-color="#ffc500"/><stop offset="0.8366" stop-color="#ffda00"/><stop offset="0.8721" stop-color="#fff100"/><stop offset="0.8914" stop-color="#ffff00"/><stop offset="0.9075" stop-color="#f3ff0c"/><stop offset="0.9429" stop-color="#d5ff2a"/><stop offset="0.9783" stop-color="#b4ff4b"/><stop offset="1" stop-color="#b4ff4b"/></linearGradient>
<linearGradient id="b12" gradientUnits="userSpaceOnUse" x1="0" y1="102.6" x2="0" y2="663.4"><stop offset="0" stop-color="#7cff83"/><stop offset="0.0221" stop-color="#7cff83"/><stop offset="0.0575" stop-color="#82ff7d"/><stop offset="0.0929" stop-color="#8bff74"/><stop offset="0.1283" stop-color="#95ff6a"/><stop offset="0.1637" stop-color="#a2ff5d"/><stop offset="0.1991" stop-color="#b1ff4e"/><stop offset="0.2346" stop-color="#c5ff3a"/><stop offset="0.27" stop-color="#daff25"/><stop offset="0.3054" stop-color="#ecff13"/><stop offset="0.3408" stop-color="#fcff03"/><stop offset="0.348" stop-color="#ffff00"/><stop offset="0.3762" stop-color="#fff200"/><stop offset="0.4116" stop-color="#ffe100"/><stop offset="0.4471" stop-color="#ffd000"/><stop offset="0.4825" stop-color="#ffc200"/><stop offset="0.5179" stop-color="#ffb600"/><stop offset="0.5533" stop-color="#ffaf00"/><stop offset="0.5887" stop-color="#ffac00"/><stop offset="0.6241" stop-color="#ffa900"/><stop offset="0.6596" stop-color="#ffa800"/><stop offset="0.695" stop-color="#ffaa00"/><stop offset="0.7304" stop-color="#ffb200"/><stop offset="0.7658" stop-color="#ffbd00"/><stop offset="0.8012" stop-color="#ffcb00"/><stop offset="0.8366" stop-color="#ffe100"/><stop offset="0.8721" stop-color="#fff800"/><stop offset="0.8808" stop-color="#ffff00"/><stop offset="0.9075" stop-color="#eaff15"/><stop offset="0.9429" stop-color="#cbff34"/><stop offset="0.9783" stop-color="#a8ff57"/><stop offset="1" stop-color="#a8ff57"/></linearGradient>
<linearGradient id="b13" gradientUnits="userSpaceOnUse" x1="0" y1="102.6" x2="0" y2="663.4"><stop offset="0" stop-color="#7dff82"/><stop offset="0.0221" stop-color="#7dff82"/><stop offset="0.0575" stop-color="#84ff7b"/><stop offset="0.0929" stop-color="#8eff71"/><stop offset="0.1283" stop-color="#99ff66"/><stop offset="0.1637" stop-color="#a6ff59"/><stop offset="0.1991" stop-color="#b6ff49"/><stop offset="0.2346" stop-color="#caff35"/><stop offset="0.27" stop-color="#dfff20"/><stop offset="0.3054" stop-color="#f2ff0d"/><stop offset="0.3345" stop-color="#ffff00"/><stop offset="0.3408" stop-color="#fffc00"/><stop offset="0.3762" stop-color="#ffec00"/><stop offset="0.4116" stop-color="#ffdc00"/><stop offset="0.4471" stop-color="#ffcc00"/><stop offset="0.4825" stop-color="#ffbf00"/><stop offset="0.5179" stop-color="#ffb200"/><stop offset="0.5533" stop-color="#ffab00"/><stop offset="0.5887" stop-color="#ffaa00"/><stop offset="0.6241" stop-color="#ffa900"/><stop offset="0.6596" stop-color="#ffa900"/><stop offset="0.695" stop-color="#ffab00"/><stop offset="0.7304" stop-color="#ffb500"/><stop offset="0.7658" stop-color="#ffc100"/><stop offset="0.8012" stop-color="#ffd100"/><stop offset="0.8366" stop-color="#ffe600"/><stop offset="0.8721" stop-color="#fffe00"/><stop offset="0.8729" stop-color="#ffff00"/><stop offset="0.9075" stop-color="#e3ff1c"/><stop offset="0.9429" stop-color="#c2ff3d"/><stop offset="0.9783" stop-color="#9cff63"/><stop offset="1" stop-color="#9cff63"/></linearGradient>
<linearGradient id="b14" gradientUnits="userSpaceOnUse" x1="0" y1="102.6" x2="0" y2="663.4"><stop offset="0" stop-color="#7fff80"/><stop offset="0.0221" stop-color="#7fff80"/><stop offset="0.0575" stop-color="#86ff79"/><stop offset="0.0929" stop-color="#90ff6f"/><stop offset="0.1283" stop-color="#9cff63"/><stop offset="0.1637" stop-color="#a9ff56"/><stop offset="0.1991" stop-color="#b9ff46"/><stop offset="0.2346" stop-color="#ceff31"/><stop offset="0.27" stop-color="#e4ff1b"/><stop offset="0.3054" stop-color="#f6ff09"/><stop offset="0.3243" stop-color="#ffff00"/><stop offset="0.3408" stop-color="#fff700"/><stop offset="0.3762" stop-color="#ffe800"/><stop offset="0.4116" stop-color="#ffd800"/><stop offset="0.4471" stop-color="#ffc900"/><stop offset="0.4825" stop-color="#ffbc00"/><stop offset="0.5179" stop-color="#ffaf00"/><stop offset="0.5533" stop-color="#ffa900"/><stop offset="0.5887" stop-color="#ffa900"/><stop offset="0.6241" stop-color="#ffa900"/><stop offset="0.6596" stop-color="#ffa900"/><stop offset="0.695" stop-color="#ffad00"/><stop offset="0.7304" stop-color="#ffb800"/><stop offset="0.7658" stop-color="#ffc700"/><stop offset="0.8012" stop-color="#ffd700"/><stop offset="0.8366" stop-color="#ffeb00"/><stop offset="0.8653" stop-color="#ffff00"/><stop offset="0.8721" stop-color="#faff05"/><stop offset="0.9075" stop-color="#dcff23"/><stop offset="0.9429" stop-color="#b8ff47"/><stop offset="0.9783" stop-color="#90ff6f"/><stop offset="1" stop-color="#90ff6f"/></linearGradient>
<linearGradient id="b15" gradientUnits="userSpaceOnUse" x1="0" y1="102.6" x2="0" y2="663.4"><stop offset="0" stop-color="#82ff7d"/><stop offset="0.0221" stop-color="#82ff7d"/><stop offset="0.0575" stop-color="#89ff76"/><stop offset="0.0929" stop-color="#93ff6c"/><stop offset="0.1283" stop-color="#9fff60"/><stop offset="0.1637" stop-color="#acff53"/><stop offset="0.1991" stop-color="#bcff43"/><stop offset="0.2346" stop-color="#d2ff2d"/><stop offset="0.27" stop-color="#e8ff17"/><stop offset="0.3054" stop-color="#faff05"/><stop offset="0.316" stop-color="#ffff00"/><stop offset="0.3408" stop-color="#fff400"/><stop offset="0.3762" stop-color="#ffe500"/><stop offset="0.4116" stop-color="#ffd500"/><stop offset="0.4471" stop-color="#ffc600"/><stop offset="0.4825" stop-color="#ffb900"/><stop offset="0.5179" stop-color="#ffad00"/><stop offset="0.5533" stop-color="#ffa700"/><stop offset="0.5887" stop-color="#ffa700"/><stop offset="0.6241" stop-color="#ffa800"/><stop offset="0.6596" stop-color="#ffaa00"/><stop offset="0.695" stop-color="#ffaf00"/><stop offset="0.7304" stop-color="#ffbc00"/><stop offset="0.7658" stop-color="#ffcb00"/><stop offset="0.8012" stop-color="#ffdc00"/><stop offset="0.8366" stop-color="#fff000"/><stop offset="0.8586" stop-color="#ffff00"/><stop offset="0.8721" stop-color="#f6ff09"/><stop offset="0.9075" stop-color="#d6ff29"/><stop offset="0.9429" stop-color="#afff50"/><stop offset="0.9783" stop-color="#83ff7c"/><stop offset="1" stop-color="#83ff7c"/></linearGradient>
<linearGradient id="b16" gradientUnits="userSpaceOnUse" x1="0" y1="102.6" x2="0" y2="663.4"><stop offset="0" stop-color="#84ff7b"/><stop offset="0.0221" stop-color="#84ff7b"/><stop offset="0.0575" stop-color="#8bff74"/><stop offset="0.0929" stop-color="#95ff6a"/><stop offset="0.1283" stop-color="#a1ff5e"/><stop offset="0.1637" stop-color="#afff50"/><stop offset="0.1991" stop-color="#bfff40"/><stop offset="0.2346" stop-color="#d5ff2a"/><stop offset="0.27" stop-color="#ebff14"/><stop offset="0.3054" stop-color="#feff01"/><stop offset="0.3086" stop-color="#ffff00"/><stop offset="0.3408" stop-color="#fff100"/><stop offset="0.3762" stop-color="#ffe200"/><stop offset="0.4116" stop-color="#ffd200"/><stop offset="0.4471" stop-color="#ffc300"/><stop offset="0.4825" stop-color="#ffb700"/><stop offset="0.5179" stop-color="#ffac00"/><stop offset="0.5533" stop-color="#ffa600"/><stop offset="0.5887" stop-color="#ffa600"/><stop offset="0.6241" stop-color="#ffa800"/><stop offset="0.6596" stop-color="#ffaa00"/><stop offset="0.695" stop-color="#ffb100"/><stop offset="0.7304" stop-color="#ffbf00"/><stop offset="0.7658" stop-color="#ffd000"/><stop offset="0.8012" stop-color="#ffe000"/><stop offset="0.8366" stop-color="#fff400"/><stop offset="0.8524" stop-color="#ffff00"/><stop offset="0.8721" stop-color="#f1ff0e"/><stop offset="0.9075" stop-color="#d0ff2f"/><stop offset="0.9429" stop-color="#a7ff58"/><stop offset="0.9783" stop-color="#78ff87"/><stop offset="1" stop-color="#78ff87"/></linearGradient>
<linearGradient id="b17" gradientUnits="userSpaceOnUse" x1="0" y1="102.6" x2="0" y2="663.4"><stop offset="0" stop-color="#87ff78"/><stop offset="0.0221" stop-color="#87ff78"/><stop offset="0.0575" stop-color="#8eff71"/><stop offset="0.0929" stop-color="#98ff67"/><stop offset="0.1283" stop-color="#a4ff5b"/><stop offset="0.1637" stop-color="#b1ff4e"/><stop offset="0.1991" stop-color="#c2ff3d"/><stop offset="0.2346" stop-color="#d8ff27"/><stop offset="0.27" stop-color="#eeff11"/><stop offset="0.3021" stop-color="#ffff00"/><stop offset="0.3054" stop-color="#fffd00"/><stop offset="0.3408" stop-color="#ffee00"/><stop offset="0.3762" stop-color="#ffe000"/><stop offset="0.4116" stop-color="#ffd000"/><stop offset="0.4471" stop-color="#ffc200"/><stop offset="0.4825" stop-color="#ffb600"/><stop offset="0.5179" stop-color="#ffaa00"/><stop offset="0.5533" stop-color="#ffa400"/><stop offset="0.5887" stop-color="#ffa500"/><stop offset="0.6241" stop-color="#ffa700"/><stop offset="0.6596" stop-color="#ffab00"/><stop offset="0.695" stop-color="#ffb300"/><stop offset="0.7304" stop-color="#ffc200"/><stop offset="0.7658" stop-color="#ffd400"/><stop offset="0.8012" stop-color="#ffe500"/><stop offset="0.8366" stop-color="#fff800"/><stop offset="0.8463" stop-color="#ffff00"/><stop offset="0.8721" stop-color="#edff12"/><stop offset="0.9075" stop-color="#caff35"/><stop offset="0.9429" stop-color="#9eff61"/><stop offset="0.9783" stop-color="#6bff94"/><stop offset="1" stop-color="#6bff94"/></linearGradient>
<linearGradient id="b18" gradientUnits="userSpaceOnUse" x1="0" y1="102.6" x2="0" y2="663.4"><stop offset="0" stop-color="#89ff76"/><stop offset="0.0221" stop-color="#89ff76"/><stop offset="0.0575" stop-color="#90ff6f"/><stop offset="0.0929" stop-color="#99ff66"/><stop offset="0.1283" stop-color="#a5ff5a"/><stop offset="0.1637" stop-color="#b3ff4c"/><stop offset="0.1991" stop-color="#c4ff3b"/><stop offset="0.2346" stop-color="#daff25"/><stop offset="0.27" stop-color="#f1ff0e"/><stop offset="0.2965" stop-color="#ffff00"/><stop offset="0.3054" stop-color="#fffa00"/><stop offset="0.3408" stop-color="#ffec00"/><stop offset="0.3762" stop-color="#ffde00"/><stop offset="0.4116" stop-color="#ffcf00"/><stop offset="0.4471" stop-color="#ffc000"/><stop offset="0.4825" stop-color="#ffb400"/><stop offset="0.5179" stop-color="#ffa900"/><stop offset="0.5533" stop-color="#ffa400"/><stop offset="0.5887" stop-color="#ffa400"/><stop offset="0.6241" stop-color="#ffa700"/><stop offset="0.6596" stop-color="#ffac00"/><stop offset="0.695" stop-color="#ffb400"/><stop offset="0.7304" stop-color="#ffc500"/><stop offset="0.7658" stop-color="#ffd900"/><stop offset="0.8012" stop-color="#ffe900"/><stop offset="0.8366" stop-color="#fffc00"/><stop offset="0.8402" stop-color="#ffff00"/><stop offset="0.8721" stop-color="#e8ff17"/><stop offset="0.9075" stop-color="#c4ff3b"/><stop offset="0.9429" stop-color="#95ff6a"/><stop offset="0.9783" stop-color="#5effa1"/><stop offset="1" stop-color="#5effa1"/></linearGradient>
<linearGradient id="b19" gradientUnits="userSpaceOnUse" x1="0" y1="102.6" x2="0" y2="663.4"><stop offset="0" stop-color="#8aff75"/><stop offset="0.0221" stop-color="#8aff75"/><stop offset="0.0575" stop-color="#90ff6f"/><stop offset="0.0929" stop-color="#9aff65"/><stop offset="0.1283" stop-color="#a6ff59"/><stop offset="0.1637" stop-color="#b4ff4b"/><stop offset="0.1991" stop-color="#c5ff3a"/><stop offset="0.2346" stop-color="#dcff23"/><stop offset="0.27" stop-color="#f3ff0c"/><stop offset="0.2935" stop-color="#ffff00"/><stop offset="0.3054" stop-color="#fff900"/><stop offset="0.3408" stop-color="#ffeb00"/><stop offset="0.3762" stop-color="#ffdd00"/><stop offset="0.4116" stop-color="#ffce00"/><stop offset="0.4471" stop-color="#ffc000"/><stop offset="0.4825" stop-color="#ffb400"/><stop offset="0.5179" stop-color="#ffa900"/><stop offset="0.5533" stop-color="#ffa300"/><stop offset="0.5887" stop-color="#ffa400"/><stop offset="0.6241" stop-color="#ffa700"/><stop offset="0.6596" stop-color="#ffac00"/><stop offset="0.695" stop-color="#ffb500"/><stop offset="0.7304" stop-color="#ffc700"/><stop offset="0.7658" stop-color="#ffdb00"/><stop offset="0.8012" stop-color="#ffec00"/><stop offset="0.8366" stop-color="#ffff00"/><stop offset="0.837" stop-color="#ffff00"/><stop offset="0.8721" stop-color="#e6ff19"/><stop offset="0.9075" stop-color="#c0ff3f"/><stop offset="0.9429" stop-color="#90ff6f"/><stop offset="0.9783" stop-color="#57ffa8"/><stop offset="1" stop-color="#57ffa8"/></linearGradient>
<linearGradient id="b20" gradientUnits="userSpaceOnUse" x1="0" y1="102.6" x2="0" y2="663.4"><stop offset="0" stop-color="#89ff76"/><stop offset="0.0221" stop-color="#89ff76"/><stop offset="0.0575" stop-color="#90ff6f"/><stop offset="0.0929" stop-color="#9aff65"/><stop offset="0.1283" stop-color="#a6ff59"/><stop offset="0.1637" stop-color="#b3ff4c"/><stop offset="0.1991" stop-color="#c4ff3b"/><stop offset="0.2346" stop-color="#dbff24"/><stop offset="0.27" stop-color="#f3ff0c"/><stop offset="0.2943" stop-color="#ffff00"/><stop offset="0.3054" stop-color="#fff900"/><stop offset="0.3408" stop-color="#ffeb00"/><stop offset="0.3762" stop-color="#ffde00"/><stop offset="0.4116" stop-color="#ffce00"/><stop offset="0.4471" stop-color="#ffc000"/><stop offset="0.4825" stop-color="#ffb400"/><stop offset="0.5179" stop-color="#ffa900"/><stop offset="0.5533" stop-color="#ffa300"/><stop offset="0.5887" stop-color="#ffa400"/><stop offset="0.6241" stop-color="#ffa700"/><stop offset="0.6596" stop-color="#ffac00"/><stop offset="0.695" stop-color="#ffb500"/><stop offset="0.7304" stop-color="#ffc700"/><stop offset="0.7658" stop-color="#ffda00"/><stop offset="0.8012" stop-color="#ffeb00"/><stop offset="0.8366" stop-color="#fffe00"/><stop offset="0.8382" stop-color="#ffff00"/><stop offset="0.8721" stop-color="#e7ff18"/><stop offset="0.9075" stop-color="#c1ff3e"/><stop offset="0.9429" stop-color="#92ff6d"/><stop offset="0.9783" stop-color="#5affa5"/><stop offset="1" stop-color="#5affa5"/></linearGradient>
<linearGradient id="b21" gradientUnits="userSpaceOnUse" x1="0" y1="102.6" x2="0" y2="663.4"><stop offset="0" stop-color="#88ff77"/><stop offset="0.0221" stop-color="#88ff77"/><stop offset="0.0575" stop-color="#8fff70"/><stop offset="0.0929" stop-color="#99ff66"/><stop offset="0.1283" stop-color="#a5ff5a"/><stop offset="0.1637" stop-color="#b2ff4d"/><stop offset="0.1991" stop-color="#c3ff3c"/><stop offset="0.2346" stop-color="#daff25"/><stop offset="0.27" stop-color="#f1ff0e"/><stop offset="0.297" stop-color="#ffff00"/><stop offset="0.3054" stop-color="#fffb00"/><stop offset="0.3408" stop-color="#ffec00"/><stop offset="0.3762" stop-color="#ffdf00"/><stop offset="0.4116" stop-color="#ffcf00"/><stop offset="0.4471" stop-color="#ffc100"/><stop offset="0.4825" stop-color="#ffb500"/><stop offset="0.5179" stop-color="#ffaa00"/><stop offset="0.5533" stop-color="#ffa400"/><stop offset="0.5887" stop-color="#ffa500"/><stop offset="0.6241" stop-color="#ffa700"/><stop offset="0.6596" stop-color="#ffab00"/><stop offset="0.695" stop-color="#ffb400"/><stop offset="0.7304" stop-color="#ffc400"/><stop offset="0.7658" stop-color="#ffd700"/><stop offset="0.8012" stop-color="#ffe800"/><stop offset="0.8366" stop-color="#fffb00"/><stop offset="0.8425" stop-color="#ffff00"/><stop offset="0.8721" stop-color="#eaff15"/><stop offset="0.9075" stop-color="#c6ff39"/><stop offset="0.9429" stop-color="#98ff67"/><stop offset="0.9783" stop-color="#63ff9c"/><stop offset="1" stop-color="#63ff9c"/></linearGradient>
<linearGradient id="b22" gradientUnits="userSpaceOnUse" x1="0" y1="102.6" x2="0" y2="663.4"><stop offset="0" stop-color="#86ff79"/><stop offset="0.0221" stop-color="#86ff79"/><stop offset="0.0575" stop-color="#8dff72"/><stop offset="0.0929" stop-color="#97ff68"/><stop offset="0.1283" stop-color="#a3ff5c"/><stop offset="0.1637" stop-color="#b0ff4f"/><stop offset="0.1991" stop-color="#c1ff3e"/><stop offset="0.2346" stop-color="#d8ff27"/><stop offset="0.27" stop-color="#efff10"/><stop offset="0.3009" stop-color="#ffff00"/><stop offset="0.3054" stop-color="#fffd00"/><stop offset="0.3408" stop-color="#ffee00"/><stop offset="0.3762" stop-color="#ffe000"/><stop offset="0.4116" stop-color="#ffd100"/><stop offset="0.4471" stop-color="#ffc200"/><stop offset="0.4825" stop-color="#ffb600"/><stop offset="0.5179" stop-color="#ffab00"/><stop offset="0.5533" stop-color="#ffa500"/><stop offset="0.5887" stop-color="#ffa500"/><stop offset="0.6241" stop-color="#ffa800"/><stop offset="0.6596" stop-color="#ffab00"/><stop offset="0.695" stop-color="#ffb200"/><stop offset="0.7304" stop-color="#ffc100"/><stop offset="0.7658" stop-color="#ffd300"/><stop offset="0.8012" stop-color="#ffe400"/><stop offset="0.8366" stop-color="#fff700"/><stop offset="0.8481" stop-color="#ffff00"/><stop offset="0.8721" stop-color="#eeff11"/><stop offset="0.9075" stop-color="#ccff33"/><stop offset="0.9429" stop-color="#a1ff5e"/><stop offset="0.9783" stop-color="#6fff90"/><stop offset="1" stop-color="#6fff90"/></linearGradient>
<linearGradient id="b23" gradientUnits="userSpaceOnUse" x1="0" y1="102.6" x2="0" y2="663.4"><stop offset="0" stop-color="#84ff7b"/><stop offset="0.0221" stop-color="#84ff7b"/><stop offset="0.0575" stop-color="#8bff74"/><stop offset="0.0929" stop-color="#94ff6b"/><stop offset="0.1283" stop-color="#a0ff5f"/><stop offset="0.1637" stop-color="#aeff51"/><stop offset="0.1991" stop-color="#bfff40"/><stop offset="0.2346" stop-color="#d5ff2a"/><stop offset="0.27" stop-color="#edff12"/><stop offset="0.3054" stop-color="#ffff00"/><stop offset="0.3056" stop-color="#ffff00"/><stop offset="0.3408" stop-color="#fff100"/><stop offset="0.3762" stop-color="#ffe300"/><stop offset="0.4116" stop-color="#ffd300"/><stop offset="0.4471" stop-color="#ffc400"/><stop offset="0.4825" stop-color="#ffb800"/><stop offset="0.5179" stop-color="#ffac00"/><stop offset="0.5533" stop-color="#ffa600"/><stop offset="0.5887" stop-color="#ffa600"/><stop offset="0.6241" stop-color="#ffa800"/><stop offset="0.6596" stop-color="#ffaa00"/><stop offset="0.695" stop-color="#ffb000"/><stop offset="0.7304" stop-color="#ffbe00"/><stop offset="0.7658" stop-color="#ffcf00"/><stop offset="0.8012" stop-color="#ffe000"/><stop offset="0.8366" stop-color="#fff300"/><stop offset="0.8536" stop-color="#ffff00"/><stop offset="0.8721" stop-color="#f2ff0d"/><stop offset="0.9075" stop-color="#d1ff2e"/><stop offset="0.9429" stop-color="#a9ff56"/><stop offset="0.9783" stop-color="#7bff84"/><stop offset="1" stop-color="#7bff84"/></linearGradient>
<linearGradient id="b24" gradientUnits="userSpaceOnUse" x1="0" y1="102.6" x2="0" y2="663.4"><stop offset="0" stop-color="#81ff7e"/><stop offset="0.0221" stop-color="#81ff7e"/><stop offset="0.0575" stop-color="#88ff77"/><stop offset="0.0929" stop-color="#92ff6d"/><stop offset="0.1283" stop-color="#9eff61"/><stop offset="0.1637" stop-color="#abff54"/><stop offset="0.1991" stop-color="#bcff43"/><stop offset="0.2346" stop-color="#d2ff2d"/><stop offset="0.27" stop-color="#e9ff16"/><stop offset="0.3054" stop-color="#fbff04"/><stop offset="0.3141" stop-color="#ffff00"/><stop offset="0.3408" stop-color="#fff400"/><stop offset="0.3762" stop-color="#ffe600"/><stop offset="0.4116" stop-color="#ffd600"/><stop offset="0.4471" stop-color="#ffc700"/><stop offset="0.4825" stop-color="#ffba00"/><stop offset="0.5179" stop-color="#ffae00"/><stop offset="0.5533" stop-color="#ffa700"/><stop offset="0.5887" stop-color="#ffa800"/><stop offset="0.6241" stop-color="#ffa800"/><stop offset="0.6596" stop-color="#ffa900"/><stop offset="0.695" stop-color="#ffae00"/><stop offset="0.7304" stop-color="#ffbb00"/><stop offset="0.7658" stop-color="#ffcb00"/><stop offset="0.8012" stop-color="#ffdb00"/><stop offset="0.8366" stop-color="#ffef00"/><stop offset="0.8597" stop-color="#ffff00"/><stop offset="0.8721" stop-color="#f6ff09"/><stop offset="0.9075" stop-color="#d8ff27"/><stop offset="0.9429" stop-color="#b3ff4c"/><stop offset="0.9783" stop-color="#88ff77"/><stop offset="1" stop-color="#88ff77"/></linearGradient>
<linearGradient id="b25" gradientUnits="userSpaceOnUse" x1="0" y1="102.6" x2="0" y2="663.4"><stop offset="0" stop-color="#7eff81"/><stop offset="0.0221" stop-color="#7eff81"/><stop offset="0.0575" stop-color="#85ff7a"/><stop offset="0.0929" stop-color="#8fff70"/><stop offset="0.1283" stop-color="#9bff64"/><stop offset="0.1637" stop-color="#a9ff56"/><stop offset="0.1991" stop-color="#b9ff46"/><stop offset="0.2346" stop-color="#ceff31"/><stop offset="0.27" stop-color="#e4ff1b"/><stop offset="0.3054" stop-color="#f7ff08"/><stop offset="0.3243" stop-color="#ffff00"/><stop offset="0.3408" stop-color="#fff800"/><stop offset="0.3762" stop-color="#ffe900"/><stop offset="0.4116" stop-color="#ffd900"/><stop offset="0.4471" stop-color="#ffca00"/><stop offset="0.4825" stop-color="#ffbd00"/><stop offset="0.5179" stop-color="#ffb000"/><stop offset="0.5533" stop-color="#ffa900"/><stop offset="0.5887" stop-color="#ffa900"/><stop offset="0.6241" stop-color="#ffa900"/><stop offset="0.6596" stop-color="#ffa900"/><stop offset="0.695" stop-color="#ffac00"/><stop offset="0.7304" stop-color="#ffb700"/><stop offset="0.7658" stop-color="#ffc600"/><stop offset="0.8012" stop-color="#ffd600"/><stop offset="0.8366" stop-color="#ffeb00"/><stop offset="0.8668" stop-color="#ffff00"/><stop offset="0.8721" stop-color="#fbff04"/><stop offset="0.9075" stop-color="#dfff20"/><stop offset="0.9429" stop-color="#bdff42"/><stop offset="0.9783" stop-color="#98ff67"/><stop offset="1" stop-color="#98ff67"/></linearGradient>
<linearGradient id="b26" gradientUnits="userSpaceOnUse" x1="0" y1="102.6" x2="0" y2="663.4"><stop offset="0" stop-color="#7aff85"/><stop offset="0.0221" stop-color="#7aff85"/><stop offset="0.0575" stop-color="#82ff7d"/><stop offset="0.0929" stop-color="#8cff73"/><stop offset="0.1283" stop-color="#98ff67"/><stop offset="0.1637" stop-color="#a5ff5a"/><stop offset="0.1991" stop-color="#b5ff4a"/><stop offset="0.2346" stop-color="#c9ff36"/><stop offset="0.27" stop-color="#dfff20"/><stop offset="0.3054" stop-color="#f1ff0e"/><stop offset="0.3368" stop-color="#ffff00"/><stop offset="0.3408" stop-color="#fffd00"/><stop offset="0.3762" stop-color="#ffee00"/><stop offset="0.4116" stop-color="#ffdd00"/><stop offset="0.4471" stop-color="#ffcd00"/><stop offset="0.4825" stop-color="#ffc000"/><stop offset="0.5179" stop-color="#ffb300"/><stop offset="0.5533" stop-color="#ffac00"/><stop offset="0.5887" stop-color="#ffaa00"/><stop offset="0.6241" stop-color="#ffa900"/><stop offset="0.6596" stop-color="#ffa800"/><stop offset="0.695" stop-color="#ffab00"/><stop offset="0.7304" stop-color="#ffb400"/><stop offset="0.7658" stop-color="#ffc000"/><stop offset="0.8012" stop-color="#ffd000"/><stop offset="0.8366" stop-color="#ffe500"/><stop offset="0.8721" stop-color="#fffd00"/><stop offset="0.8749" stop-color="#ffff00"/><stop offset="0.9075" stop-color="#e7ff18"/><stop offset="0.9429" stop-color="#c9ff36"/><stop offset="0.9783" stop-color="#a7ff58"/><stop offset="1" stop-color="#a7ff58"/></linearGradient>
<linearGradient id="b27" gradientUnits="userSpaceOnUse" x1="0" y1="102.6" x2="0" y2="663.4"><stop offset="0" stop-color="#74ff8b"/><stop offset="0.0221" stop-color="#74ff8b"/><stop offset="0.0575" stop-color="#7cff83"/><stop offset="0.0929" stop-color="#87ff78"/><stop offset="0.1283" stop-color="#93ff6c"/><stop offset="0.1637" stop-color="#a0ff5f"/><stop offset="0.1991" stop-color="#b0ff4f"/><stop offset="0.2346" stop-color="#c4ff3b"/><stop offset="0.27" stop-color="#d9ff26"/><stop offset="0.3054" stop-color="#eaff15"/><stop offset="0.3408" stop-color="#faff05"/><stop offset="0.352" stop-color="#ffff00"/><stop offset="0.3762" stop-color="#fff400"/><stop offset="0.4116" stop-color="#ffe200"/><stop offset="0.4471" stop-color="#ffd100"/><stop offset="0.4825" stop-color="#ffc300"/><stop offset="0.5179" stop-color="#ffb700"/><stop offset="0.5533" stop-color="#ffaf00"/><stop offset="0.5887" stop-color="#ffac00"/><stop offset="0.6241" stop-color="#ffaa00"/><stop offset="0.6596" stop-color="#ffa800"/><stop offset="0.695" stop-color="#ffaa00"/><stop offset="0.7304" stop-color="#ffb200"/><stop offset="0.7658" stop-color="#ffbb00"/><stop offset="0.8012" stop-color="#ffca00"/><stop offset="0.8366" stop-color="#ffe000"/><stop offset="0.8721" stop-color="#fff600"/><stop offset="0.8846" stop-color="#ffff00"/><stop offset="0.9075" stop-color="#efff10"/><stop offset="0.9429" stop-color="#d3ff2c"/><stop offset="0.9783" stop-color="#b5ff4a"/><stop offset="1" stop-color="#b5ff4a"/></linearGradient>
<linearGradient id="b28" gradientUnits="userSpaceOnUse" x1="0" y1="102.6" x2="0" y2="663.4"><stop offset="0" stop-color="#6dff92"/><stop offset="0.0221" stop-color="#6dff92"/><stop offset="0.0575" stop-color="#76ff89"/><stop offset="0.0929" stop-color="#81ff7e"/><stop offset="0.1283" stop-color="#8dff72"/><stop offset="0.1637" stop-color="#9bff64"/><stop offset="0.1991" stop-color="#abff54"/><stop offset="0.2346" stop-color="#bdff42"/><stop offset="0.27" stop-color="#d1ff2e"/><stop offset="0.3054" stop-color="#e3ff1c"/><stop offset="0.3408" stop-color="#f3ff0c"/><stop offset="0.3682" stop-color="#ffff00"/><stop offset="0.3762" stop-color="#fffb00"/><stop offset="0.4116" stop-color="#ffe900"/><stop offset="0.4471" stop-color="#ffd600"/><stop offset="0.4825" stop-color="#ffc900"/><stop offset="0.5179" stop-color="#ffbd00"/><stop offset="0.5533" stop-color="#ffb400"/><stop offset="0.5887" stop-color="#ffaf00"/><stop offset="0.6241" stop-color="#ffab00"/><stop offset="0.6596" stop-color="#ffa800"/><stop offset="0.695" stop-color="#ffaa00"/><stop offset="0.7304" stop-color="#ffaf00"/><stop offset="0.7658" stop-color="#ffb600"/><stop offset="0.8012" stop-color="#ffc300"/><stop offset="0.8366" stop-color="#ffd800"/><stop offset="0.8721" stop-color="#ffed00"/><stop offset="0.8989" stop-color="#ffff00"/><stop offset="0.9075" stop-color="#f9ff06"/><stop offset="0.9429" stop-color="#dfff20"/><stop offset="0.9783" stop-color="#c2ff3d"/><stop offset="1" stop-color="#c2ff3d"/></linearGradient>
<linearGradient id="b29" gradientUnits="userSpaceOnUse" x1="0" y1="102.6" x2="0" y2="663.4"><stop offset="0" stop-color="#65ff9a"/><stop offset="0.0221" stop-color="#65ff9a"/><stop offset="0.0575" stop-color="#6fff90"/><stop offset="0.0929" stop-color="#7aff85"/><stop offset="0.1283" stop-color="#87ff78"/><stop offset="0.1637" stop-color="#94ff6b"/><stop offset="0.1991" stop-color="#a4ff5b"/><stop offset="0.2346" stop-color="#b5ff4a"/><stop offset="0.27" stop-color="#c8ff37"/><stop offset="0.3054" stop-color="#d9ff26"/><stop offset="0.3408" stop-color="#ebff14"/><stop offset="0.3762" stop-color="#fcff03"/><stop offset="0.3819" stop-color="#ffff00"/><stop offset="0.4116" stop-color="#fff000"/><stop offset="0.4471" stop-color="#ffde00"/><stop offset="0.4825" stop-color="#ffd000"/><stop offset="0.5179" stop-color="#ffc300"/><stop offset="0.5533" stop-color="#ffb900"/><stop offset="0.5887" stop-color="#ffb200"/><stop offset="0.6241" stop-color="#ffac00"/><stop offset="0.6596" stop-color="#ffa800"/><stop offset="0.695" stop-color="#ffa900"/><stop offset="0.7304" stop-color="#ffac00"/><stop offset="0.7658" stop-color="#ffb100"/><stop offset="0.8012" stop-color="#ffbc00"/><stop offset="0.8366" stop-color="#ffce00"/><stop offset="0.8721" stop-color="#ffe200"/><stop offset="0.9075" stop-color="#fff900"/><stop offset="0.916" stop-color="#ffff00"/><stop offset="0.9429" stop-color="#ebff14"/><stop offset="0.9783" stop-color="#ceff31"/><stop offset="1" stop-color="#ceff31"/></linearGradient>
<linearGradient id="b30" gradientUnits="userSpaceOnUse" x1="0" y1="102.6" x2="0" y2="663.4"><stop offset="0" stop-color="#5cffa3"/><stop offset="0.0221" stop-color="#5cffa3"/><stop offset="0.0575" stop-color="#66ff99"/><stop offset="0.0929" stop-color="#71ff8e"/><stop offset="0.1283" stop-color="#7eff81"/><stop offset="0.1637" stop-color="#8cff73"/><stop offset="0.1991" stop-color="#9aff65"/><stop offset="0.2346" stop-color="#abff54"/><stop offset="0.27" stop-color="#bdff42"/><stop offset="0.3054" stop-color="#cfff30"/><stop offset="0.3408" stop-color="#e3ff1c"/><stop offset="0.3762" stop-color="#f7ff08"/><stop offset="0.3936" stop-color="#ffff00"/><stop offset="0.4116" stop-color="#fff600"/><stop offset="0.4471" stop-color="#ffe700"/><stop offset="0.4825" stop-color="#ffd900"/><stop offset="0.5179" stop-color="#ffcc00"/><stop offset="0.5533" stop-color="#ffc100"/><stop offset="0.5887" stop-color="#ffb700"/><stop offset="0.6241" stop-color="#ffae00"/><stop offset="0.6596" stop-color="#ffa900"/><stop offset="0.695" stop-color="#ffa900"/><stop offset="0.7304" stop-color="#ffaa00"/><stop offset="0.7658" stop-color="#ffac00"/><stop offset="0.8012" stop-color="#ffb500"/><stop offset="0.8366" stop-color="#ffc500"/><stop offset="0.8721" stop-color="#ffd700"/><stop offset="0.9075" stop-color="#ffed00"/><stop offset="0.9328" stop-color="#ffff00"/><stop offset="0.9429" stop-color="#f8ff07"/><stop offset="0.9783" stop-color="#daff25"/><stop offset="1" stop-color="#daff25"/></linearGradient>
<linearGradient id="b31" gradientUnits="userSpaceOnUse" x1="0" y1="102.6" x2="0" y2="663.4"><stop offset="0" stop-color="#50ffaf"/><stop offset="0.0221" stop-color="#50ffaf"/><stop offset="0.0575" stop-color="#5affa5"/><stop offset="0.0929" stop-color="#65ff9a"/><stop offset="0.1283" stop-color="#72ff8d"/><stop offset="0.1637" stop-color="#80ff7f"/><stop offset="0.1991" stop-color="#8fff70"/><stop offset="0.2346" stop-color="#9fff60"/><stop offset="0.27" stop-color="#b1ff4e"/><stop offset="0.3054" stop-color="#c5ff3a"/><stop offset="0.3408" stop-color="#dcff23"/><stop offset="0.3762" stop-color="#f1ff0e"/><stop offset="0.4056" stop-color="#ffff00"/><stop offset="0.4116" stop-color="#fffc00"/><stop offset="0.4471" stop-color="#ffee00"/><stop offset="0.4825" stop-color="#ffe100"/><stop offset="0.5179" stop-color="#ffd600"/><stop offset="0.5533" stop-color="#ffcb00"/><stop offset="0.5887" stop-color="#ffbf00"/><stop offset="0.6241" stop-color="#ffb100"/><stop offset="0.6596" stop-color="#ffa900"/><stop offset="0.695" stop-color="#ffa800"/><stop offset="0.7304" stop-color="#ffa800"/><stop offset="0.7658" stop-color="#ffa800"/><stop offset="0.8012" stop-color="#ffae00"/><stop offset="0.8366" stop-color="#ffbd00"/><stop offset="0.8721" stop-color="#ffcd00"/><stop offset="0.9075" stop-color="#ffe100"/><stop offset="0.9429" stop-color="#fffb00"/><stop offset="0.9477" stop-color="#ffff00"/><stop offset="0.9783" stop-color="#e5ff1a"/><stop offset="1" stop-color="#e5ff1a"/></linearGradient>
<linearGradient id="b32" gradientUnits="userSpaceOnUse" x1="0" y1="102.6" x2="0" y2="663.4"><stop offset="0" stop-color="#43ffbc"/><stop offset="0.0221" stop-color="#43ffbc"/><stop offset="0.0575" stop-color="#4dffb2"/><stop offset="0.0929" stop-color="#58ffa7"/><stop offset="0.1283" stop-color="#65ff9a"/><stop offset="0.1637" stop-color="#72ff8d"/><stop offset="0.1991" stop-color="#81ff7e"/><stop offset="0.2346" stop-color="#92ff6d"/><stop offset="0.27" stop-color="#a4ff5b"/><stop offset="0.3054" stop-color="#b9ff46"/><stop offset="0.3408" stop-color="#d3ff2c"/><stop offset="0.3762" stop-color="#ebff14"/><stop offset="0.4116" stop-color="#fcff03"/><stop offset="0.4185" stop-color="#ffff00"/><stop offset="0.4471" stop-color="#fff400"/><stop offset="0.4825" stop-color="#ffe900"/><stop offset="0.5179" stop-color="#ffe000"/><stop offset="0.5533" stop-color="#ffd600"/><stop offset="0.5887" stop-color="#ffc800"/><stop offset="0.6241" stop-color="#ffb700"/><stop offset="0.6596" stop-color="#ffab00"/><stop offset="0.695" stop-color="#ffa800"/><stop offset="0.7304" stop-color="#ffa600"/><stop offset="0.7658" stop-color="#ffa500"/><stop offset="0.8012" stop-color="#ffaa00"/><stop offset="0.8366" stop-color="#ffb600"/><stop offset="0.8721" stop-color="#ffc400"/><stop offset="0.9075" stop-color="#ffd700"/><stop offset="0.9429" stop-color="#fff100"/><stop offset="0.9595" stop-color="#ffff00"/><stop offset="0.9783" stop-color="#efff10"/><stop offset="1" stop-color="#efff10"/></linearGradient>
<linearGradient id="b33" gradientUnits="userSpaceOnUse" x1="0" y1="102.6" x2="0" y2="663.4"><stop offset="0" stop-color="#35ffca"/><stop offset="0.0221" stop-color="#35ffca"/><stop offset="0.0575" stop-color="#3fffc0"/><stop offset="0.0929" stop-color="#4affb5"/><stop offset="0.1283" stop-color="#56ffa9"/><stop offset="0.1637" stop-color="#64ff9b"/><stop offset="0.1991" stop-color="#73ff8c"/><stop offset="0.2346" stop-color="#83ff7c"/><stop offset="0.27" stop-color="#95ff6a"/><stop offset="0.3054" stop-color="#abff54"/><stop offset="0.3408" stop-color="#c9ff36"/><stop offset="0.3762" stop-color="#e4ff1b"/><stop offset="0.4116" stop-color="#f6ff09"/><stop offset="0.4337" stop-color="#ffff00"/><stop offset="0.4471" stop-color="#fffa00"/><stop offset="0.4825" stop-color="#fff000"/><stop offset="0.5179" stop-color="#ffe900"/><stop offset="0.5533" stop-color="#ffe100"/><stop offset="0.5887" stop-color="#ffd300"/><stop offset="0.6241" stop-color="#ffc000"/><stop offset="0.6596" stop-color="#ffb000"/><stop offset="0.695" stop-color="#ffa900"/><stop offset="0.7304" stop-color="#ffa400"/><stop offset="0.7658" stop-color="#ffa200"/><stop offset="0.8012" stop-color="#ffa600"/><stop offset="0.8366" stop-color="#ffaf00"/><stop offset="0.8721" stop-color="#ffbb00"/><stop offset="0.9075" stop-color="#ffce00"/><stop offset="0.9429" stop-color="#ffe700"/><stop offset="0.9708" stop-color="#ffff00"/><stop offset="0.9783" stop-color="#f9ff06"/><stop offset="1" stop-color="#f9ff06"/></linearGradient>
<linearGradient id="b34" gradientUnits="userSpaceOnUse" x1="0" y1="102.6" x2="0" y2="663.4"><stop offset="0" stop-color="#26ffd9"/><stop offset="0.0221" stop-color="#26ffd9"/><stop offset="0.0575" stop-color="#2fffd0"/><stop offset="0.0929" stop-color="#3affc5"/><stop offset="0.1283" stop-color="#46ffb9"/><stop offset="0.1637" stop-color="#54ffab"/><stop offset="0.1991" stop-color="#62ff9d"/><stop offset="0.2346" stop-color="#73ff8c"/><stop offset="0.27" stop-color="#86ff79"/><stop offset="0.3054" stop-color="#9cff63"/><stop offset="0.3408" stop-color="#bcff43"/><stop offset="0.3762" stop-color="#d9ff26"/><stop offset="0.4116" stop-color="#eeff11"/><stop offset="0.4471" stop-color="#feff01"/><stop offset="0.4528" stop-color="#ffff00"/><stop offset="0.4825" stop-color="#fff700"/><stop offset="0.5179" stop-color="#fff100"/><stop offset="0.5533" stop-color="#ffea00"/><stop offset="0.5887" stop-color="#ffdd00"/><stop offset="0.6241" stop-color="#ffc900"/><stop offset="0.6596" stop-color="#ffb700"/><stop offset="0.695" stop-color="#ffac00"/><stop offset="0.7304" stop-color="#ffa300"/><stop offset="0.7658" stop-color="#ff9f00"/><stop offset="0.8012" stop-color="#ffa200"/><stop offset="0.8366" stop-color="#ffa900"/><stop offset="0.8721" stop-color="#ffb300"/><stop offset="0.9075" stop-color="#ffc400"/><stop offset="0.9429" stop-color="#ffdc00"/><stop offset="0.9783" stop-color="#fff800"/><stop offset="1" stop-color="#fff800"/></linearGradient>
<linearGradient id="b35" gradientUnits="userSpaceOnUse" x1="0" y1="102.6" x2="0" y2="663.4"><stop offset="0" stop-color="#17ffe8"/><stop offset="0.0221" stop-color="#17ffe8"/><stop offset="0.0575" stop-color="#1effe1"/><stop offset="0.0929" stop-color="#28ffd7"/><stop offset="0.1283" stop-color="#34ffcb"/><stop offset="0.1637" stop-color="#41ffbe"/><stop offset="0.1991" stop-color="#4fffb0"/><stop offset="0.2346" stop-color="#61ff9e"/><stop offset="0.27" stop-color="#75ff8a"/><stop offset="0.3054" stop-color="#8dff72"/><stop offset="0.3408" stop-color="#adff52"/><stop offset="0.3762" stop-color="#ccff33"/><stop offset="0.4116" stop-color="#e3ff1c"/><stop offset="0.4471" stop-color="#f5ff0a"/><stop offset="0.4825" stop-color="#feff01"/><stop offset="0.491" stop-color="#ffff00"/><stop offset="0.5179" stop-color="#fffb00"/><stop offset="0.5533" stop-color="#fff400"/><stop offset="0.5887" stop-color="#ffe700"/><stop offset="0.6241" stop-color="#ffd200"/><stop offset="0.6596" stop-color="#ffbf00"/><stop offset="0.695" stop-color="#ffb100"/><stop offset="0.7304" stop-color="#ffa400"/><stop offset="0.7658" stop-color="#ff9e00"/><stop offset="0.8012" stop-color="#ffa000"/><stop offset="0.8366" stop-color="#ffa500"/><stop offset="0.8721" stop-color="#ffac00"/><stop offset="0.9075" stop-color="#ffba00"/><stop offset="0.9429" stop-color="#ffcd00"/><stop offset="0.9783" stop-color="#ffe500"/><stop offset="1" stop-color="#ffe500"/></linearGradient>
<linearGradient id="b36" gradientUnits="userSpaceOnUse" x1="0" y1="102.6" x2="0" y2="663.4"><stop offset="0" stop-color="#06fff9"/><stop offset="0.0221" stop-color="#06fff9"/><stop offset="0.0575" stop-color="#0cfff3"/><stop offset="0.0929" stop-color="#15ffea"/><stop offset="0.1283" stop-color="#20ffdf"/><stop offset="0.1637" stop-color="#2dffd2"/><stop offset="0.1991" stop-color="#3cffc3"/><stop offset="0.2346" stop-color="#4fffb0"/><stop offset="0.27" stop-color="#65ff9a"/><stop offset="0.3054" stop-color="#7eff81"/><stop offset="0.3408" stop-color="#9dff62"/><stop offset="0.3762" stop-color="#bcff43"/><stop offset="0.4116" stop-color="#d5ff2a"/><stop offset="0.4471" stop-color="#eaff15"/><stop offset="0.4825" stop-color="#f3ff0c"/><stop offset="0.5179" stop-color="#f9ff06"/><stop offset="0.5473" stop-color="#ffff00"/><stop offset="0.5533" stop-color="#fffe00"/><stop offset="0.5887" stop-color="#fff000"/><stop offset="0.6241" stop-color="#ffdb00"/><stop offset="0.6596" stop-color="#ffc700"/><stop offset="0.695" stop-color="#ffb700"/><stop offset="0.7304" stop-color="#ffa600"/><stop offset="0.7658" stop-color="#ff9f00"/><stop offset="0.8012" stop-color="#ffa000"/><stop offset="0.8366" stop-color="#ffa300"/><stop offset="0.8721" stop-color="#ffa700"/><stop offset="0.9075" stop-color="#ffb000"/><stop offset="0.9429" stop-color="#ffbf00"/><stop offset="0.9783" stop-color="#ffd100"/><stop offset="1" stop-color="#ffd100"/></linearGradient>
<linearGradient id="b37" gradientUnits="userSpaceOnUse" x1="0" y1="102.6" x2="0" y2="663.4"><stop offset="0" stop-color="#00efff"/><stop offset="0.0221" stop-color="#00efff"/><stop offset="0.0575" stop-color="#00f6ff"/><stop offset="0.0893" stop-color="#00ffff"/><stop offset="0.0929" stop-color="#01fffe"/><stop offset="0.1283" stop-color="#0dfff2"/><stop offset="0.1637" stop-color="#1bffe4"/><stop offset="0.1991" stop-color="#2bffd4"/><stop offset="0.2346" stop-color="#3effc1"/><stop offset="0.27" stop-color="#55ffaa"/><stop offset="0.3054" stop-color="#6eff91"/><stop offset="0.3408" stop-color="#8dff72"/><stop offset="0.3762" stop-color="#abff54"/><stop offset="0.4116" stop-color="#c6ff39"/><stop offset="0.4471" stop-color="#dcff23"/><stop offset="0.4825" stop-color="#e8ff17"/><stop offset="0.5179" stop-color="#efff10"/><stop offset="0.5533" stop-color="#f7ff08"/><stop offset="0.5734" stop-color="#ffff00"/><stop offset="0.5887" stop-color="#fff900"/><stop offset="0.6241" stop-color="#ffe600"/><stop offset="0.6596" stop-color="#ffd300"/><stop offset="0.695" stop-color="#ffc000"/><stop offset="0.7304" stop-color="#ffab00"/><stop offset="0.7658" stop-color="#ffa100"/><stop offset="0.8012" stop-color="#ffa100"/><stop offset="0.8366" stop-color="#ffa100"/><stop offset="0.8721" stop-color="#ffa100"/><stop offset="0.9075" stop-color="#ffa700"/><stop offset="0.9429" stop-color="#ffb300"/><stop offset="0.9783" stop-color="#ffc100"/><stop offset="1" stop-color="#ffc100"/></linearGradient>
<linearGradient id="b38" gradientUnits="userSpaceOnUse" x1="0" y1="102.6" x2="0" y2="663.4"><stop offset="0" stop-color="#00d7ff"/><stop offset="0.0221" stop-color="#00d7ff"/><stop offset="0.0575" stop-color="#00e2ff"/><stop offset="0.0929" stop-color="#00eeff"/><stop offset="0.1283" stop-color="#00fcff"/><stop offset="0.1346" stop-color="#00ffff"/><stop offset="0.1637" stop-color="#0dfff2"/><stop offset="0.1991" stop-color="#1dffe2"/><stop offset="0.2346" stop-color="#30ffcf"/><stop offset="0.27" stop-color="#45ffba"/><stop offset="0.3054" stop-color="#5dffa2"/><stop offset="0.3408" stop-color="#7bff84"/><stop offset="0.3762" stop-color="#99ff66"/><stop offset="0.4116" stop-color="#b5ff4a"/><stop offset="0.4471" stop-color="#cdff32"/><stop offset="0.4825" stop-color="#dbff24"/><stop offset="0.5179" stop-color="#e4ff1b"/><stop offset="0.5533" stop-color="#eeff11"/><stop offset="0.5887" stop-color="#fcff03"/><stop offset="0.5947" stop-color="#ffff00"/><stop offset="0.6241" stop-color="#fff100"/><stop offset="0.6596" stop-color="#ffe000"/><stop offset="0.695" stop-color="#ffcb00"/><stop offset="0.7304" stop-color="#ffb400"/><stop offset="0.7658" stop-color="#ffa600"/><stop offset="0.8012" stop-color="#ffa100"/><stop offset="0.8366" stop-color="#ff9e00"/><stop offset="0.8721" stop-color="#ff9e00"/><stop offset="0.9075" stop-color="#ffa100"/><stop offset="0.9429" stop-color="#ffa800"/><stop offset="0.9783" stop-color="#ffb200"/><stop offset="1" stop-color="#ffb200"/></linearGradient>
<linearGradient id="b39" gradientUnits="userSpaceOnUse" x1="0" y1="102.6" x2="0" y2="663.4"><stop offset="0" stop-color="#00ccff"/><stop offset="0.0221" stop-color="#00ccff"/><stop offset="0.0575" stop-color="#00d7ff"/><stop offset="0.0929" stop-color="#00e3ff"/><stop offset="0.1283" stop-color="#00f1ff"/><stop offset="0.1617" stop-color="#00ffff"/><stop offset="0.1637" stop-color="#01fffe"/><stop offset="0.1991" stop-color="#10ffef"/><stop offset="0.2346" stop-color="#21ffde"/><stop offset="0.27" stop-color="#34ffcb"/><stop offset="0.3054" stop-color="#4bffb4"/><stop offset="0.3408" stop-color="#68ff97"/><stop offset="0.3762" stop-color="#86ff79"/><stop offset="0.4116" stop-color="#a1ff5e"/><stop offset="0.4471" stop-color="#b9ff46"/><stop offset="0.4825" stop-color="#caff35"/><stop offset="0.5179" stop-color="#d8ff27"/><stop offset="0.5533" stop-color="#e6ff19"/><stop offset="0.5887" stop-color="#f4ff0b"/><stop offset="0.616" stop-color="#ffff00"/><stop offset="0.6241" stop-color="#fffc00"/><stop offset="0.6596" stop-color="#ffec00"/><stop offset="0.695" stop-color="#ffd700"/><stop offset="0.7304" stop-color="#ffbe00"/><stop offset="0.7658" stop-color="#ffab00"/><stop offset="0.8012" stop-color="#ffa200"/><stop offset="0.8366" stop-color="#ff9c00"/><stop offset="0.8721" stop-color="#ff9b00"/><stop offset="0.9075" stop-color="#ff9c00"/><stop offset="0.9429" stop-color="#ff9f00"/><stop offset="0.9783" stop-color="#ffa500"/><stop offset="1" stop-color="#ffa500"/></linearGradient>
<linearGradient id="b40" gradientUnits="userSpaceOnUse" x1="0" y1="102.6" x2="0" y2="663.4"><stop offset="0" stop-color="#00c7ff"/><stop offset="0.0221" stop-color="#00c7ff"/><stop offset="0.0575" stop-color="#00d1ff"/><stop offset="0.0929" stop-color="#00ddff"/><stop offset="0.1283" stop-color="#00e9ff"/><stop offset="0.1637" stop-color="#00f6ff"/><stop offset="0.1869" stop-color="#00ffff"/><stop offset="0.1991" stop-color="#05fffa"/><stop offset="0.2346" stop-color="#12ffed"/><stop offset="0.27" stop-color="#22ffdd"/><stop offset="0.3054" stop-color="#37ffc8"/><stop offset="0.3408" stop-color="#54ffab"/><stop offset="0.3762" stop-color="#72ff8d"/><stop offset="0.4116" stop-color="#8bff74"/><stop offset="0.4471" stop-color="#a3ff5c"/><stop offset="0.4825" stop-color="#b8ff47"/><stop offset="0.5179" stop-color="#ccff33"/><stop offset="0.5533" stop-color="#deff21"/><stop offset="0.5887" stop-color="#ecff13"/><stop offset="0.6241" stop-color="#f8ff07"/><stop offset="0.6436" stop-color="#ffff00"/><stop offset="0.6596" stop-color="#fff900"/><stop offset="0.695" stop-color="#ffe400"/><stop offset="0.7304" stop-color="#ffc800"/><stop offset="0.7658" stop-color="#ffb300"/><stop offset="0.8012" stop-color="#ffa500"/><stop offset="0.8366" stop-color="#ff9b00"/><stop offset="0.8721" stop-color="#ff9900"/><stop offset="0.9075" stop-color="#ff9900"/><stop offset="0.9429" stop-color="#ff9900"/><stop offset="0.9783" stop-color="#ff9900"/><stop offset="1" stop-color="#ff9900"/></linearGradient></defs>
<g clip-path="url(#ca)"><g filter="url(#bl)"><rect x="171.70" y="100.0" width="30.90" height="582.4" fill="url(#a0)"/><rect x="202.00" y="100.0" width="36.32" height="582.4" fill="url(#a1)"/><rect x="237.72" y="100.0" width="36.32" height="582.4" fill="url(#a2)"/><rect x="273.44" y="100.0" width="36.32" height="582.4" fill="url(#a3)"/><rect x="309.16" y="100.0" width="36.32" height="582.4" fill="url(#a4)"/><rect x="344.88" y="100.0" width="36.32" height="582.4" fill="url(#a5)"/><rect x="380.60" y="100.0" width="36.32" height="582.4" fill="url(#a6)"/><rect x="416.32" y="100.0" width="36.32" height="582.4" fill="url(#a7)"/><rect x="452.04" y="100.0" width="36.32" height="582.4" fill="url(#a8)"/><rect x="487.76" y="100.0" width="36.32" height="582.4" fill="url(#a9)"/><rect x="523.48" y="100.0" width="36.32" height="582.4" fill="url(#a10)"/><rect x="559.20" y="100.0" width="36.32" height="582.4" fill="url(#a11)"/><rect x="594.92" y="100.0" width="36.32" height="582.4" fill="url(#a12)"/><rect x="630.64" y="100.0" width="36.32" height="582.4" fill="url(#a13)"/><rect x="666.36" y="100.0" width="36.32" height="582.4" fill="url(#a14)"/><rect x="702.08" y="100.0" width="36.32" height="582.4" fill="url(#a15)"/><rect x="737.80" y="100.0" width="36.32" height="582.4" fill="url(#a16)"/><rect x="773.52" y="100.0" width="36.32" height="582.4" fill="url(#a17)"/><rect x="809.24" y="100.0" width="48.26" height="582.4" fill="url(#a18)"/></g></g>
<g filter="url(#bf)">
<rect x="184.0" y="112.0" width="661.2" height="558.4" fill="none" stroke="#444" stroke-width="2.0" stroke-opacity="0.80"/>
<path d="M349.8 670.4v-5 M349.8 112.0v5 M515.0 670.4v-5 M515.0 112.0v5 M681.2 670.4v-5 M681.2 112.0v5 M184.0 176.5h5 M845.2 176.5h-5 M184.0 306.8h5 M845.2 306.8h-5 M184.0 437.0h5 M845.2 437.0h-5 M184.0 567.2h5 M845.2 567.2h-5" stroke="#222" stroke-width="1.5" stroke-opacity="0.55" fill="none"/>
<line x1="182.5" y1="384.8" x2="840.0" y2="384.8" stroke="#1c1500" stroke-width="5.6" stroke-dasharray="5.60 5.80"/>
<line x1="188.0" y1="513.3" x2="846.0" y2="513.3" stroke="#1c1500" stroke-width="5.6" stroke-dasharray="5.60 5.80"/>
<line x1="188.0" y1="616.2" x2="846.0" y2="616.2" stroke="#1c1500" stroke-width="5.6" stroke-dasharray="5.60 5.80"/>
<rect x="890.3" y="112.0" width="35.2" height="559.0" fill="url(#jet)" stroke="#444" stroke-opacity="0.8" stroke-width="2"/>
</g>
<g filter="url(#bt)">
<text transform="translate(940.0 127.9) scale(1 1)" font-size="41.0" text-anchor="start" font-weight="normal" fill="#3a3a3a" font-family="Liberation Sans, Arial, Helvetica, sans-serif" >1</text>
<text transform="translate(940.0 239.5) scale(1 1)" font-size="41.0" text-anchor="start" font-weight="normal" fill="#3a3a3a" font-family="Liberation Sans, Arial, Helvetica, sans-serif" >0.8</text>
<path d="M925.5 224.8h-5" stroke="#222" stroke-width="1.5" stroke-opacity=".55"/>
<text transform="translate(940.0 351.1) scale(1 1)" font-size="41.0" text-anchor="start" font-weight="normal" fill="#3a3a3a" font-family="Liberation Sans, Arial, Helvetica, sans-serif" >0.6</text>
<path d="M925.5 336.4h-5" stroke="#222" stroke-width="1.5" stroke-opacity=".55"/>
<text transform="translate(940.0 462.7) scale(1 1)" font-size="41.0" text-anchor="start" font-weight="normal" fill="#3a3a3a" font-family="Liberation Sans, Arial, Helvetica, sans-serif" >0.4</text>
<path d="M925.5 448.0h-5" stroke="#222" stroke-width="1.5" stroke-opacity=".55"/>
<text transform="translate(940.0 574.3) scale(1 1)" font-size="41.0" text-anchor="start" font-weight="normal" fill="#3a3a3a" font-family="Liberation Sans, Arial, Helvetica, sans-serif" >0.2</text>
<path d="M925.5 559.6h-5" stroke="#222" stroke-width="1.5" stroke-opacity=".55"/>
<text transform="translate(940.0 685.9) scale(1 1)" font-size="41.0" text-anchor="start" font-weight="normal" fill="#3a3a3a" font-family="Liberation Sans, Arial, Helvetica, sans-serif" >0</text>
<text transform="translate(169.9 193.2) scale(0.985 1)" font-size="46.7" text-anchor="end" font-weight="normal" fill="#3a3a3a" font-family="Liberation Sans, Arial, Helvetica, sans-serif" >800</text>
<text transform="translate(169.9 323.5) scale(0.985 1)" font-size="46.7" text-anchor="end" font-weight="normal" fill="#3a3a3a" font-family="Liberation Sans, Arial, Helvetica, sans-serif" >700</text>
<text transform="translate(169.9 453.7) scale(0.985 1)" font-size="46.7" text-anchor="end" font-weight="normal" fill="#3a3a3a" font-family="Liberation Sans, Arial, Helvetica, sans-serif" >600</text>
<text transform="translate(169.9 583.9) scale(0.985 1)" font-size="46.7" text-anchor="end" font-weight="normal" fill="#3a3a3a" font-family="Liberation Sans, Arial, Helvetica, sans-serif" >500</text>
<text transform="translate(184.0 728.8) scale(1 1)" font-size="46.7" text-anchor="middle" font-weight="normal" fill="#3a3a3a" font-family="Liberation Sans, Arial, Helvetica, sans-serif" >-40</text>
<text transform="translate(349.8 728.8) scale(1 1)" font-size="46.7" text-anchor="middle" font-weight="normal" fill="#3a3a3a" font-family="Liberation Sans, Arial, Helvetica, sans-serif" >-20</text>
<text transform="translate(515.0 728.8) scale(1 1)" font-size="46.7" text-anchor="middle" font-weight="normal" fill="#3a3a3a" font-family="Liberation Sans, Arial, Helvetica, sans-serif" >0</text>
<text transform="translate(681.2 728.8) scale(1 1)" font-size="46.7" text-anchor="middle" font-weight="normal" fill="#3a3a3a" font-family="Liberation Sans, Arial, Helvetica, sans-serif" >20</text>
<text transform="translate(846.5 728.8) scale(1 1)" font-size="46.7" text-anchor="middle" font-weight="normal" fill="#3a3a3a" font-family="Liberation Sans, Arial, Helvetica, sans-serif" >40</text>
<text transform="translate(513.5 84.8) scale(1.006 1)" font-size="50.3" text-anchor="middle" font-weight="bold" fill="#111" font-family="Liberation Sans, Arial, Helvetica, sans-serif" >All States (Measured)</text>
<text transform="translate(77.8 391.0) rotate(-90) scale(0.994 1)" font-size="50.6" text-anchor="middle" font-weight="normal" fill="#3a3a3a" font-family="Liberation Sans, Arial, Helvetica, sans-serif">Wavelength (nm)</text>
</g>
<g clip-path="url(#cl)"><g filter="url(#bt)"><text transform="translate(514.3 791.2) scale(1 1)" font-size="50.9" text-anchor="middle" font-weight="normal" fill="#3a3a3a" font-family="Liberation Sans, Arial, Helvetica, sans-serif" >Angle of Incidence (°)</text></g></g>
<g clip-path="url(#cb)"><g filter="url(#bl)"><rect x="1290.81" y="102.6" width="28.34" height="560.8" fill="url(#b0)"/><rect x="1318.55" y="102.6" width="16.34" height="560.8" fill="url(#b1)"/><rect x="1334.28" y="102.6" width="16.34" height="560.8" fill="url(#b2)"/><rect x="1350.02" y="102.6" width="16.34" height="560.8" fill="url(#b3)"/><rect x="1365.75" y="102.6" width="16.34" height="560.8" fill="url(#b4)"/><rect x="1381.49" y="102.6" width="16.34" height="560.8" fill="url(#b5)"/><rect x="1397.22" y="102.6" width="16.34" height="560.8" fill="url(#b6)"/><rect x="1412.96" y="102.6" width="16.34" height="560.8" fill="url(#b7)"/><rect x="1428.69" y="102.6" width="16.34" height="560.8" fill="url(#b8)"/><rect x="1444.43" y="102.6" width="16.34" height="560.8" fill="url(#b9)"/><rect x="1460.16" y="102.6" width="16.34" height="560.8" fill="url(#b10)"/><rect x="1475.90" y="102.6" width="16.34" height="560.8" fill="url(#b11)"/><rect x="1491.63" y="102.6" width="16.34" height="560.8" fill="url(#b12)"/><rect x="1507.37" y="102.6" width="16.34" height="560.8" fill="url(#b13)"/><rect x="1523.10" y="102.6" width="16.34" height="560.8" fill="url(#b14)"/><rect x="1538.84" y="102.6" width="16.34" height="560.8" fill="url(#b15)"/><rect x="1554.57" y="102.6" width="16.34" height="560.8" fill="url(#b16)"/><rect x="1570.31" y="102.6" width="16.34" height="560.8" fill="url(#b17)"/><rect x="1586.04" y="102.6" width="16.34" height="560.8" fill="url(#b18)"/><rect x="1601.78" y="102.6" width="16.34" height="560.8" fill="url(#b19)"/><rect x="1617.51" y="102.6" width="16.34" height="560.8" fill="url(#b20)"/><rect x="1633.25" y="102.6" width="16.34" height="560.8" fill="url(#b21)"/><rect x="1648.98" y="102.6" width="16.34" height="560.8" fill="url(#b22)"/><rect x="1664.72" y="102.6" width="16.34" height="560.8" fill="url(#b23)"/><rect x="1680.46" y="102.6" width="16.34" height="560.8" fill="url(#b24)"/><rect x="1696.19" y="102.6" width="16.34" height="560.8" fill="url(#b25)"/><rect x="1711.93" y="102.6" width="16.34" height="560.8" fill="url(#b26)"/><rect x="1727.66" y="102.6" width="16.34" height="560.8" fill="url(#b27)"/><rect x="1743.40" y="102.6" width="16.34" height="560.8" fill="url(#b28)"/><rect x="1759.13" y="102.6" width="16.34" height="560.8" fill="url(#b29)"/><rect x="1774.87" y="102.6" width="16.34" height="560.8" fill="url(#b30)"/><rect x="1790.60" y="102.6" width="16.34" height="560.8" fill="url(#b31)"/><rect x="1806.34" y="102.6" width="16.34" height="560.8" fill="url(#b32)"/><rect x="1822.07" y="102.6" width="16.34" height="560.8" fill="url(#b33)"/><rect x="1837.81" y="102.6" width="16.34" height="560.8" fill="url(#b34)"/><rect x="1853.54" y="102.6" width="16.34" height="560.8" fill="url(#b35)"/><rect x="1869.28" y="102.6" width="16.34" height="560.8" fill="url(#b36)"/><rect x="1885.01" y="102.6" width="16.34" height="560.8" fill="url(#b37)"/><rect x="1900.75" y="102.6" width="16.34" height="560.8" fill="url(#b38)"/><rect x="1916.48" y="102.6" width="16.34" height="560.8" fill="url(#b39)"/><rect x="1932.22" y="102.6" width="28.34" height="560.8" fill="url(#b40)"/></g></g>
<g filter="url(#bg)">
<rect x="1311.0" y="114.6" width="629.4" height="536.8" fill="none" stroke="#555" stroke-width="1.8" stroke-opacity="0.80"/>
<path d="M1457.0 651.4v-5 M1457.0 114.6v5 M1613.0 651.4v-5 M1613.0 114.6v5 M1770.5 651.4v-5 M1770.5 114.6v5 M1927.7 651.4v-5 M1927.7 114.6v5 M1311.0 156.6h5 M1940.4 156.6h-5 M1311.0 281.0h5 M1940.4 281.0h-5 M1311.0 404.8h5 M1940.4 404.8h-5 M1311.0 529.0h5 M1940.4 529.0h-5" stroke="#222" stroke-width="1.5" stroke-opacity="0.55" fill="none"/>
<line x1="1316.0" y1="358.5" x2="1942.0" y2="358.5" stroke="#1c1500" stroke-width="5.0" stroke-linecap="round" stroke-dasharray="0.01 11.29"/>
<line x1="1308.0" y1="477.6" x2="1936.0" y2="477.6" stroke="#1c1500" stroke-width="5.0" stroke-linecap="round" stroke-dasharray="0.01 11.29"/>
<line x1="1316.0" y1="584.7" x2="1942.0" y2="584.7" stroke="#1c1500" stroke-width="5.0" stroke-linecap="round" stroke-dasharray="0.01 11.29"/>
<rect x="1986.0" y="114.0" width="41.5" height="540.0" fill="url(#jet)" stroke="#555" stroke-opacity="0.8" stroke-width="1.8"/>
</g>
<g filter="url(#bt)">
<text transform="translate(2040.1 129.5) scale(1 1)" font-size="42.5" text-anchor="start" font-weight="normal" fill="#3a3a3a" font-family="Liberation Sans, Arial, Helvetica, sans-serif" >1</text>
<text transform="translate(2040.1 237.5) scale(1 1)" font-size="42.5" text-anchor="start" font-weight="normal" fill="#3a3a3a" font-family="Liberation Sans, Arial, Helvetica, sans-serif" >0.8</text>
<path d="M2027.5 222.5h-5" stroke="#222" stroke-width="1.5" stroke-opacity=".55"/>
<text transform="translate(2040.1 345.5) scale(1 1)" font-size="42.5" text-anchor="start" font-weight="normal" fill="#3a3a3a" font-family="Liberation Sans, Arial, Helvetica, sans-serif" >0.6</text>
<path d="M2027.5 330.5h-5" stroke="#222" stroke-width="1.5" stroke-opacity=".55"/>
<text transform="translate(2040.1 453.5) scale(1 1)" font-size="42.5" text-anchor="start" font-weight="normal" fill="#3a3a3a" font-family="Liberation Sans, Arial, Helvetica, sans-serif" >0.4</text>
<path d="M2027.5 438.5h-5" stroke="#222" stroke-width="1.5" stroke-opacity=".55"/>
<text transform="translate(2040.1 561.5) scale(1 1)" font-size="42.5" text-anchor="start" font-weight="normal" fill="#3a3a3a" font-family="Liberation Sans, Arial, Helvetica, sans-serif" >0.2</text>
<path d="M2027.5 546.5h-5" stroke="#222" stroke-width="1.5" stroke-opacity=".55"/>
<text transform="translate(2040.1 669.5) scale(1 1)" font-size="42.5" text-anchor="start" font-weight="normal" fill="#3a3a3a" font-family="Liberation Sans, Arial, Helvetica, sans-serif" >0</text>
<text transform="translate(1294.8 174.3) scale(1.025 1)" font-size="47.0" text-anchor="end" font-weight="normal" fill="#3a3a3a" font-family="Liberation Sans, Arial, Helvetica, sans-serif" >800</text>
<text transform="translate(1294.8 298.7) scale(1.025 1)" font-size="47.0" text-anchor="end" font-weight="normal" fill="#3a3a3a" font-family="Liberation Sans, Arial, Helvetica, sans-serif" >700</text>
<text transform="translate(1294.8 422.5) scale(1.025 1)" font-size="47.0" text-anchor="end" font-weight="normal" fill="#3a3a3a" font-family="Liberation Sans, Arial, Helvetica, sans-serif" >600</text>
<text transform="translate(1294.8 546.7) scale(1.025 1)" font-size="47.0" text-anchor="end" font-weight="normal" fill="#3a3a3a" font-family="Liberation Sans, Arial, Helvetica, sans-serif" >500</text>
<text transform="translate(1454.0 713.4) scale(1.02 1)" font-size="47.0" text-anchor="middle" font-weight="normal" fill="#3a3a3a" font-family="Liberation Sans, Arial, Helvetica, sans-serif" >-20</text>
<text transform="translate(1611.5 713.4) scale(1.02 1)" font-size="47.0" text-anchor="middle" font-weight="normal" fill="#3a3a3a" font-family="Liberation Sans, Arial, Helvetica, sans-serif" >0</text>
<text transform="translate(1769.0 713.4) scale(1.02 1)" font-size="47.0" text-anchor="middle" font-weight="normal" fill="#3a3a3a" font-family="Liberation Sans, Arial, Helvetica, sans-serif" >20</text>
<text transform="translate(1926.2 713.4) scale(1.02 1)" font-size="47.0" text-anchor="middle" font-weight="normal" fill="#3a3a3a" font-family="Liberation Sans, Arial, Helvetica, sans-serif" >40</text>
<text transform="translate(1624.5 90.1) scale(1.044 1)" font-size="51.5" text-anchor="middle" font-weight="bold" fill="#111" font-family="Liberation Sans, Arial, Helvetica, sans-serif" >All States (RCWA)</text>
<text transform="translate(1193.1 384.9) rotate(-90) scale(1.027 1)" font-size="52.0" text-anchor="middle" font-weight="normal" fill="#3a3a3a" font-family="Liberation Sans, Arial, Helvetica, sans-serif">Wavelength (nm)</text>
</g>
<g clip-path="url(#cl)"><g filter="url(#bt)"><text transform="translate(1624.7 782.2) scale(1.036 1)" font-size="51.5" text-anchor="middle" font-weight="normal" fill="#3a3a3a" font-family="Liberation Sans, Arial, Helvetica, sans-serif" >Angle of Incidence (°)</text></g></g>
<text y="893.4" fill="#000" font-family="Liberation Serif, Times New Roman, serif"><tspan x="485.18" font-size="86.0" font-weight="normal" textLength="25.34" lengthAdjust="spacingAndGlyphs">(</tspan><tspan x="513.01" font-size="84.0" font-weight="bold" textLength="39.89" lengthAdjust="spacingAndGlyphs">a</tspan><tspan x="554.00" font-size="86.0" font-weight="normal" textLength="25.49" lengthAdjust="spacingAndGlyphs">)</tspan></text>
<text y="893.4" fill="#000" font-family="Liberation Serif, Times New Roman, serif"><tspan x="1595.79" font-size="86.0" font-weight="normal" textLength="25.99" lengthAdjust="spacingAndGlyphs">(</tspan><tspan x="1622.53" font-size="84.0" font-weight="bold" textLength="50.72" lengthAdjust="spacingAndGlyphs">b</tspan><tspan x="1673.80" font-size="86.0" font-weight="normal" textLength="25.49" lengthAdjust="spacingAndGlyphs">)</tspan></text>
<text y="1980.8" fill="#000" font-family="Liberation Serif, Times New Roman, serif"><tspan x="1045.14" font-size="86.0" font-weight="normal" textLength="26.38" lengthAdjust="spacingAndGlyphs">(</tspan><tspan x="1072.49" font-size="84.0" font-weight="bold" textLength="35.63" lengthAdjust="spacingAndGlyphs">c</tspan><tspan x="1110.35" font-size="86.0" font-weight="normal" textLength="24.98" lengthAdjust="spacingAndGlyphs">)</tspan></text>
<path d="M495.0 1619.7H1451.2 M495.0 1547.2H1451.2 M495.0 1474.6H1451.2 M495.0 1402.1H1451.2 M495.0 1329.6H1451.2 M495.0 1257.1H1451.2 M495.0 1184.6H1451.2 M495.0 1112.0H1451.2 M495.0 1039.5H1451.2 M733.2 967.0V1692.2 M1211.0 967.0V1692.2" stroke="#d9d9d9" stroke-width="2.6" fill="none"/>
<path d="M546.6 1643.1 550.6 1635.5 554.6 1627.2 558.6 1618.1 562.6 1608.4 566.6 1598.0 570.6 1587.1 574.6 1575.6 578.6 1563.5 582.6 1551.0 586.6 1538.0 590.6 1524.5 594.6 1510.7 598.6 1496.5 602.6 1482.1 606.6 1467.5 610.6 1453.0 614.6 1438.6 618.6 1424.5 622.6 1410.8 626.6 1397.5 630.6 1384.6 634.6 1372.1 638.6 1359.9 642.6 1348.0 646.6 1336.3 650.6 1324.8 654.6 1313.4 658.6 1302.1 662.6 1290.7 666.6 1279.2 670.6 1267.6 674.6 1256.1 678.6 1245.0 682.6 1234.9 686.6 1225.8 690.6 1217.7 694.6 1210.6 698.6 1204.3 702.6 1198.6 706.6 1193.6 710.6 1189.1 714.6 1185.1 718.6 1181.3 722.6 1177.9 726.6 1174.9 730.6 1172.3 734.6 1170.1 738.6 1168.4 742.6 1167.1 746.6 1166.3 750.6 1165.9 754.6 1165.8 758.6 1166.2 762.6 1166.9 766.6 1168.1 770.6 1169.7 774.6 1171.7 778.6 1174.1 782.6 1176.8 786.6 1179.7 790.6 1182.9 794.6 1186.2 798.6 1189.5 802.6 1193.0 806.6 1196.4 810.6 1199.7 814.6 1203.0 818.6 1206.1 822.6 1209.2 826.6 1212.3 830.6 1215.5 834.6 1218.7 838.6 1222.0 842.6 1225.4 846.6 1229.1 850.6 1232.9 854.6 1236.9 858.6 1241.1 862.6 1245.5 866.6 1250.0 870.6 1254.5 874.6 1258.8 878.6 1262.9 882.6 1266.8 886.6 1270.3 890.6 1273.4 894.6 1276.3 898.6 1279.0 902.6 1281.4 906.6 1283.7 910.6 1285.9 914.6 1288.0 918.6 1290.1 922.6 1292.1 926.6 1294.1 930.6 1296.0 934.6 1297.7 938.6 1299.4 942.6 1300.8 946.6 1302.1 950.6 1303.1 954.6 1304.0 958.6 1304.6 962.6 1305.1 966.6 1305.4 970.6 1305.5 974.6 1305.5 978.6 1305.3 982.6 1304.9 986.6 1304.3 990.6 1303.6 994.6 1302.7 998.6 1301.6 1002.6 1300.5 1006.6 1299.1 1010.6 1297.6 1014.6 1296.0 1018.6 1294.3 1022.6 1292.4 1026.6 1290.3 1030.6 1288.2 1034.6 1285.9 1038.6 1283.6 1042.6 1281.1 1046.6 1278.5 1050.6 1275.8 1054.6 1272.9 1058.6 1270.0 1062.6 1267.0 1066.6 1263.9 1070.6 1260.7 1074.6 1257.4 1078.6 1254.1 1082.6 1250.6 1086.6 1247.1 1090.6 1243.4 1094.6 1239.7 1098.6 1236.0 1102.6 1232.1 1106.6 1228.2 1110.6 1224.1 1114.6 1220.1 1118.6 1215.9 1122.6 1211.8 1126.6 1207.7 1130.6 1203.6 1134.6 1199.5 1138.6 1195.6 1142.6 1191.8 1146.6 1188.1 1150.6 1184.7 1154.6 1181.4 1158.6 1178.4 1162.6 1175.6 1166.6 1173.1 1170.6 1170.9 1174.6 1169.0 1178.6 1167.5 1182.6 1166.3 1186.6 1165.5 1190.6 1165.1 1194.6 1165.2 1198.6 1165.6 1202.6 1166.6 1206.6 1168.0 1210.6 1170.0 1214.6 1172.3 1218.6 1175.1 1222.6 1178.4 1226.6 1182.0 1230.6 1186.1 1234.6 1190.7 1238.6 1196.0 1242.6 1202.5 1246.6 1210.1 1250.6 1217.8 1254.6 1224.6 1258.6 1231.5 1262.6 1239.7 1266.6 1250.5 1270.6 1263.3 1274.6 1274.7 1278.6 1284.8 1282.6 1295.1 1286.6 1306.2 1290.6 1318.2 1294.6 1330.8 1298.6 1343.9 1302.6 1357.5 1306.6 1371.3 1310.6 1385.3 1314.6 1399.5 1318.6 1413.8 1322.6 1428.2 1326.6 1442.5 1330.6 1456.9 1334.6 1471.1 1338.6 1485.3 1342.6 1499.2 1346.6 1512.9 1350.6 1526.4 1354.6 1539.6 1358.6 1552.4 1362.6 1564.8 1366.6 1576.7 1370.6 1588.2 1374.6 1599.1 1378.6 1609.4 1382.6 1619.1 1386.6 1628.1 1390.6 1636.3 1394.6 1643.8 1398.6 1650.5 1401.3 1654.6" stroke="#4472c4" stroke-width="3.7" fill="none" stroke-linejoin="round" stroke-linecap="round"/>
<g stroke="#4472c4" stroke-width="5.5" fill="none"><circle cx="759.3" cy="1187.9" r="5.6"/><circle cx="771.8" cy="1190.5" r="5.6"/><circle cx="791.4" cy="1203.6" r="5.6"/><circle cx="834.9" cy="1218.9" r="5.6"/><circle cx="855.6" cy="1246.9" r="5.6"/><circle cx="876.6" cy="1249.5" r="5.6"/><circle cx="918.8" cy="1271.0" r="5.6"/><circle cx="940.8" cy="1272.4" r="5.6"/><circle cx="951.3" cy="1273.3" r="5.6"/><circle cx="983.3" cy="1263.8" r="5.6"/><circle cx="1004.3" cy="1261.1" r="5.6"/><circle cx="1025.3" cy="1262.6" r="5.6"/><circle cx="1047.8" cy="1246.9" r="5.6"/><circle cx="1068.5" cy="1246.9" r="5.6"/><circle cx="1089.5" cy="1244.5" r="5.6"/><circle cx="1110.4" cy="1223.5" r="5.6"/><circle cx="1131.4" cy="1207.8" r="5.6"/><circle cx="1153.9" cy="1191.4" r="5.6"/><circle cx="1174.9" cy="1193.4" r="5.6"/><circle cx="1195.9" cy="1192.1" r="5.6"/></g>
<path d="M546.6 1656.7 550.6 1651.7 554.6 1646.1 558.6 1639.9 562.6 1633.2 566.6 1626.0 570.6 1618.3 574.6 1610.1 578.6 1601.6 582.6 1592.6 586.6 1583.3 590.6 1573.7 594.6 1563.8 598.6 1553.6 602.6 1543.2 606.6 1532.6 610.6 1521.8 614.6 1510.9 618.6 1499.9 622.6 1488.8 626.6 1477.6 630.6 1466.5 634.6 1455.3 638.6 1444.3 642.6 1433.2 646.6 1422.3 650.6 1411.5 654.6 1400.8 658.6 1390.2 662.6 1379.8 666.6 1369.4 670.6 1359.3 674.6 1349.3 678.6 1339.4 682.6 1329.8 686.6 1320.3 690.6 1311.1 694.6 1302.0 698.6 1293.1 702.6 1284.5 706.6 1276.1 710.6 1268.0 714.6 1260.1 718.6 1252.5 722.6 1245.1 726.6 1238.1 730.6 1231.5 734.6 1225.5 738.6 1220.2 742.6 1215.4 746.6 1211.0 750.6 1207.0 754.6 1203.4 758.6 1200.1 762.6 1197.0 766.6 1194.2 770.6 1191.7 774.6 1189.3 778.6 1187.1 782.6 1185.1 786.6 1183.2 790.6 1181.4 794.6 1179.8 798.6 1178.4 802.6 1177.1 806.6 1176.1 810.6 1175.2 814.6 1174.6 818.6 1174.1 822.6 1173.9 826.6 1173.9 830.6 1174.1 834.6 1174.5 838.6 1175.1 842.6 1175.7 846.6 1176.5 850.6 1177.4 854.6 1178.3 858.6 1179.3 862.6 1180.2 866.6 1181.2 870.6 1182.3 874.6 1183.3 878.6 1184.3 882.6 1185.4 886.6 1186.4 890.6 1187.4 894.6 1188.5 898.6 1189.4 902.6 1190.4 906.6 1191.4 910.6 1192.3 914.6 1193.2 918.6 1194.0 922.6 1194.8 926.6 1195.6 930.6 1196.3 934.6 1196.9 938.6 1197.5 942.6 1198.0 946.6 1198.5 950.6 1198.9 954.6 1199.3 958.6 1199.5 962.6 1199.7 966.6 1199.8 970.6 1199.9 974.6 1199.8 978.6 1199.7 982.6 1199.5 986.6 1199.3 990.6 1199.0 994.6 1198.6 998.6 1198.2 1002.6 1197.7 1006.6 1197.2 1010.6 1196.6 1014.6 1195.9 1018.6 1195.2 1022.6 1194.5 1026.6 1193.7 1030.6 1192.9 1034.6 1192.1 1038.6 1191.2 1042.6 1190.2 1046.6 1189.3 1050.6 1188.3 1054.6 1187.3 1058.6 1186.2 1062.6 1185.2 1066.6 1184.1 1070.6 1183.1 1074.6 1182.1 1078.6 1181.1 1082.6 1180.1 1086.6 1179.2 1090.6 1178.4 1094.6 1177.6 1098.6 1176.9 1102.6 1176.3 1106.6 1175.7 1110.6 1175.3 1114.6 1175.0 1118.6 1174.9 1122.6 1174.8 1126.6 1174.9 1130.6 1175.2 1134.6 1175.6 1138.6 1176.3 1142.6 1177.1 1146.6 1178.0 1150.6 1179.2 1154.6 1180.6 1158.6 1182.3 1162.6 1184.1 1166.6 1186.2 1170.6 1188.7 1174.6 1191.5 1178.6 1195.0 1182.6 1199.2 1186.6 1204.0 1190.6 1208.4 1194.6 1212.0 1198.6 1215.3 1202.6 1219.0 1206.6 1223.9 1210.6 1229.6 1214.6 1236.1 1218.6 1243.0 1222.6 1250.2 1226.6 1257.5 1230.6 1265.0 1234.6 1272.8 1238.6 1280.9 1242.6 1289.4 1246.6 1298.2 1250.6 1307.4 1254.6 1316.9 1258.6 1326.6 1262.6 1336.6 1266.6 1346.9 1270.6 1357.4 1274.6 1368.1 1278.6 1379.0 1282.6 1390.0 1286.6 1401.1 1290.6 1412.3 1294.6 1423.7 1298.6 1435.0 1302.6 1446.5 1306.6 1457.9 1310.6 1469.3 1314.6 1480.7 1318.6 1492.0 1322.6 1503.2 1326.6 1514.4 1330.6 1525.4 1334.6 1536.2 1338.6 1546.8 1342.6 1557.3 1346.6 1567.4 1350.6 1577.4 1354.6 1587.0 1358.6 1596.3 1362.6 1605.2 1366.6 1613.8 1370.6 1622.0 1374.6 1629.7 1378.6 1637.0 1382.6 1643.9 1386.6 1650.2 1390.6 1655.9 1394.6 1661.2 1398.6 1665.8 1401.3 1668.6" stroke="#00b050" stroke-width="3.7" fill="none" stroke-linejoin="round" stroke-linecap="round"/>
<g stroke="#00b050" stroke-width="5.5" fill="none"><circle cx="760.6" cy="1195.4" r="5.6"/><circle cx="770.5" cy="1177.0" r="5.6"/><circle cx="791.4" cy="1175.7" r="5.6"/><circle cx="834.9" cy="1160.4" r="5.6"/><circle cx="855.6" cy="1171.1" r="5.6"/><circle cx="876.6" cy="1177.3" r="5.6"/><circle cx="918.8" cy="1188.1" r="5.6"/><circle cx="940.8" cy="1189.1" r="5.6"/><circle cx="951.3" cy="1195.6" r="5.6"/><circle cx="983.3" cy="1184.2" r="5.6"/><circle cx="1004.3" cy="1182.9" r="5.6"/><circle cx="1025.3" cy="1177.3" r="5.6"/><circle cx="1047.8" cy="1173.1" r="5.6"/><circle cx="1068.5" cy="1171.8" r="5.6"/><circle cx="1089.5" cy="1176.6" r="5.6"/><circle cx="1110.4" cy="1172.4" r="5.6"/><circle cx="1131.4" cy="1167.2" r="5.6"/><circle cx="1153.9" cy="1167.2" r="5.6"/><circle cx="1174.9" cy="1184.2" r="5.6"/><circle cx="1195.9" cy="1198.0" r="5.6"/></g>
<path d="M546.6 1669.0 550.6 1665.3 554.6 1661.3 558.6 1656.9 562.6 1652.1 566.6 1647.0 570.6 1641.6 574.6 1635.8 578.6 1629.8 582.6 1623.5 586.6 1616.9 590.6 1610.1 594.6 1603.0 598.6 1595.7 602.6 1588.3 606.6 1580.6 610.6 1572.8 614.6 1564.9 618.6 1556.8 622.6 1548.6 626.6 1540.3 630.6 1531.9 634.6 1523.4 638.6 1514.9 642.6 1506.3 646.6 1497.7 650.6 1489.0 654.6 1480.3 658.6 1471.6 662.6 1463.0 666.6 1454.3 670.6 1445.6 674.6 1437.0 678.6 1428.4 682.6 1419.9 686.6 1411.5 690.6 1403.1 694.6 1394.9 698.6 1386.7 702.6 1378.7 706.6 1370.8 710.6 1363.0 714.6 1355.4 718.6 1348.0 722.6 1340.7 726.6 1333.6 730.6 1326.8 734.6 1320.1 738.6 1313.6 742.6 1307.4 746.6 1301.5 750.6 1295.8 754.6 1290.3 758.6 1285.1 762.6 1280.2 766.6 1275.3 770.6 1270.6 774.6 1265.9 778.6 1261.4 782.6 1257.1 786.6 1252.9 790.6 1249.0 794.6 1245.2 798.6 1241.6 802.6 1238.2 806.6 1234.9 810.6 1231.8 814.6 1228.9 818.6 1226.1 822.6 1223.5 826.6 1221.0 830.6 1218.6 834.6 1216.4 838.6 1214.3 842.6 1212.3 846.6 1210.5 850.6 1208.7 854.6 1207.1 858.6 1205.6 862.6 1204.1 866.6 1202.8 870.6 1201.5 874.6 1200.3 878.6 1199.2 882.6 1198.1 886.6 1197.2 890.6 1196.3 894.6 1195.4 898.6 1194.6 902.6 1193.9 906.6 1193.3 910.6 1192.7 914.6 1192.1 918.6 1191.6 922.6 1191.2 926.6 1190.8 930.6 1190.5 934.6 1190.2 938.6 1190.0 942.6 1189.8 946.6 1189.6 950.6 1189.5 954.6 1189.5 958.6 1189.4 962.6 1189.4 966.6 1189.5 970.6 1189.5 974.6 1189.6 978.6 1189.8 982.6 1189.9 986.6 1190.1 990.6 1190.3 994.6 1190.5 998.6 1190.7 1002.6 1191.0 1006.6 1191.2 1010.6 1191.5 1014.6 1191.8 1018.6 1192.1 1022.6 1192.4 1026.6 1192.8 1030.6 1193.1 1034.6 1193.6 1038.6 1194.0 1042.6 1194.5 1046.6 1195.0 1050.6 1195.7 1054.6 1196.3 1058.6 1197.0 1062.6 1197.9 1066.6 1198.7 1070.6 1199.7 1074.6 1200.8 1078.6 1201.9 1082.6 1203.1 1086.6 1204.5 1090.6 1206.0 1094.6 1207.5 1098.6 1209.2 1102.6 1211.1 1106.6 1213.0 1110.6 1215.1 1114.6 1217.3 1118.6 1219.7 1122.6 1222.3 1126.6 1224.9 1130.6 1227.8 1134.6 1230.8 1138.6 1234.1 1142.6 1237.5 1146.6 1241.1 1150.6 1245.0 1154.6 1249.1 1158.6 1253.4 1162.6 1258.0 1166.6 1262.8 1170.6 1267.7 1174.6 1272.6 1178.6 1277.6 1182.6 1282.7 1186.6 1288.1 1190.6 1293.6 1194.6 1299.5 1198.6 1305.6 1202.6 1311.9 1206.6 1318.4 1210.6 1325.2 1214.6 1332.1 1218.6 1339.3 1222.6 1346.6 1226.6 1354.1 1230.6 1361.8 1234.6 1369.6 1238.6 1377.5 1242.6 1385.6 1246.6 1393.8 1250.6 1402.2 1254.6 1410.6 1258.6 1419.1 1262.6 1427.7 1266.6 1436.3 1270.6 1445.0 1274.6 1453.8 1278.6 1462.6 1282.6 1471.4 1286.6 1480.3 1290.6 1489.1 1294.6 1498.0 1298.6 1506.8 1302.6 1515.6 1306.6 1524.4 1310.6 1533.1 1314.6 1541.7 1318.6 1550.3 1322.6 1558.7 1326.6 1566.9 1330.6 1575.0 1334.6 1582.8 1338.6 1590.4 1342.6 1597.7 1346.6 1604.7 1350.6 1611.4 1354.6 1617.8 1358.6 1624.0 1362.6 1629.9 1366.6 1635.5 1370.6 1641.0 1374.6 1646.2 1378.6 1651.2 1382.6 1656.0 1386.6 1660.7 1390.6 1665.2 1394.6 1669.5 1398.6 1673.7 1401.3 1676.5" stroke="#ff0000" stroke-width="3.7" fill="none" stroke-linejoin="round" stroke-linecap="round"/>
<g stroke="#ff0000" stroke-width="5.5" fill="none"><circle cx="760.6" cy="1314.2" r="5.6"/><circle cx="770.5" cy="1239.9" r="5.6"/><circle cx="791.4" cy="1231.6" r="5.6"/><circle cx="834.9" cy="1189.7" r="5.6"/><circle cx="855.6" cy="1184.2" r="5.6"/><circle cx="876.6" cy="1165.9" r="5.6"/><circle cx="918.8" cy="1165.9" r="5.6"/><circle cx="940.8" cy="1163.2" r="5.6"/><circle cx="951.3" cy="1164.6" r="5.6"/><circle cx="983.3" cy="1167.2" r="5.6"/><circle cx="1004.3" cy="1164.6" r="5.6"/><circle cx="1025.3" cy="1165.9" r="5.6"/><circle cx="1047.8" cy="1163.0" r="5.6"/><circle cx="1068.5" cy="1171.5" r="5.6"/><circle cx="1089.5" cy="1180.0" r="5.6"/><circle cx="1110.4" cy="1185.5" r="5.6"/><circle cx="1131.4" cy="1203.9" r="5.6"/><circle cx="1153.9" cy="1231.6" r="5.6"/><circle cx="1174.9" cy="1253.9" r="5.6"/><circle cx="1195.9" cy="1293.2" r="5.6"/></g>
<path d="M972.1 967.0V1692.2" stroke="#000" stroke-width="2.8"/>
<rect x="495.0" y="967.0" width="956.2" height="725.2" fill="none" stroke="#000" stroke-width="2.8"/>
<text transform="translate(409.68 1708.5) scale(1.094 1)" font-size="50.8" font-weight="normal" fill="#000" font-family="Liberation Sans, Arial, Helvetica, sans-serif">0</text>
<text transform="translate(366.04 1636.0) scale(1.061 1)" font-size="50.8" font-weight="normal" fill="#000" font-family="Liberation Sans, Arial, Helvetica, sans-serif">0.1</text>
<text transform="translate(366.04 1563.5) scale(1.061 1)" font-size="50.8" font-weight="normal" fill="#000" font-family="Liberation Sans, Arial, Helvetica, sans-serif">0.2</text>
<text transform="translate(366.05 1490.9) scale(1.057 1)" font-size="50.8" font-weight="normal" fill="#000" font-family="Liberation Sans, Arial, Helvetica, sans-serif">0.3</text>
<text transform="translate(366.08 1418.4) scale(1.045 1)" font-size="50.8" font-weight="normal" fill="#000" font-family="Liberation Sans, Arial, Helvetica, sans-serif">0.4</text>
<text transform="translate(366.06 1345.9) scale(1.053 1)" font-size="50.8" font-weight="normal" fill="#000" font-family="Liberation Sans, Arial, Helvetica, sans-serif">0.5</text>
<text transform="translate(366.05 1273.4) scale(1.057 1)" font-size="50.8" font-weight="normal" fill="#000" font-family="Liberation Sans, Arial, Helvetica, sans-serif">0.6</text>
<text transform="translate(366.04 1200.9) scale(1.061 1)" font-size="50.8" font-weight="normal" fill="#000" font-family="Liberation Sans, Arial, Helvetica, sans-serif">0.7</text>
<text transform="translate(366.05 1128.3) scale(1.057 1)" font-size="50.8" font-weight="normal" fill="#000" font-family="Liberation Sans, Arial, Helvetica, sans-serif">0.8</text>
<text transform="translate(366.04 1055.8) scale(1.061 1)" font-size="50.8" font-weight="normal" fill="#000" font-family="Liberation Sans, Arial, Helvetica, sans-serif">0.9</text>
<text transform="translate(411.29 983.3) scale(1.053 1)" font-size="50.8" font-weight="normal" fill="#000" font-family="Liberation Sans, Arial, Helvetica, sans-serif">1</text>
<text transform="translate(454.54 1785.6) scale(1.068 1)" font-size="51.2" font-weight="normal" fill="#000" font-family="Liberation Sans, Arial, Helvetica, sans-serif">-90</text>
<text transform="translate(695.04 1785.6) scale(1.025 1)" font-size="51.2" font-weight="normal" fill="#000" font-family="Liberation Sans, Arial, Helvetica, sans-serif">-45</text>
<text transform="translate(957.39 1785.6) scale(1.077 1)" font-size="51.2" font-weight="normal" fill="#000" font-family="Liberation Sans, Arial, Helvetica, sans-serif">0</text>
<text transform="translate(1182.90 1785.6) scale(1.017 1)" font-size="51.2" font-weight="normal" fill="#000" font-family="Liberation Sans, Arial, Helvetica, sans-serif">45</text>
<text transform="translate(1421.52 1785.6) scale(1.033 1)" font-size="51.2" font-weight="normal" fill="#000" font-family="Liberation Sans, Arial, Helvetica, sans-serif">90</text>
<text y="1857.9" font-size="62.0" fill="#000" font-family="Liberation Sans, Arial, Helvetica, sans-serif"><tspan x="669.29" textLength="176.47" lengthAdjust="spacingAndGlyphs">Angle </tspan><tspan x="845.31" textLength="77.49" lengthAdjust="spacingAndGlyphs">of </tspan><tspan x="918.39" textLength="289.25" lengthAdjust="spacingAndGlyphs">Incidence </tspan><tspan x="1210.76" textLength="62.83" lengthAdjust="spacingAndGlyphs">(°)</tspan></text>
<text transform="translate(264.4 0) rotate(-90)" font-size="62.0" fill="#000" font-family="Liberation Sans, Arial, Helvetica, sans-serif"><tspan x="-1652.68" textLength="314.43" lengthAdjust="spacingAndGlyphs">Diffraction </tspan><tspan x="-1336.14" textLength="263.33" lengthAdjust="spacingAndGlyphs">Efficiency</tspan></text>
<rect x="1488.6" y="1125.3" width="480.4" height="460.5" fill="#fff" stroke="#000" stroke-width="2.6"/>
<path d="M1512.5 1163.4H1567" stroke="#4472c4" stroke-width="4.1" stroke-linecap="round"/>
<text y="1177.4" font-size="40.8" fill="#000" font-family="Liberation Sans, Arial, Helvetica, sans-serif"><tspan x="1573.64" textLength="82.71" lengthAdjust="spacingAndGlyphs">450 </tspan><tspan x="1655.11" textLength="74.10" lengthAdjust="spacingAndGlyphs">nm </tspan><tspan x="1728.21" textLength="146.64" lengthAdjust="spacingAndGlyphs">(RCWA)</tspan></text>
<circle cx="1539" cy="1240.4" r="5.8" stroke="#4472c4" stroke-width="5.6" fill="none"/>
<text y="1254.1" font-size="40.8" fill="#000" font-family="Liberation Sans, Arial, Helvetica, sans-serif"><tspan x="1573.64" textLength="82.71" lengthAdjust="spacingAndGlyphs">450 </tspan><tspan x="1655.11" textLength="74.10" lengthAdjust="spacingAndGlyphs">nm </tspan><tspan x="1728.03" textLength="219.16" lengthAdjust="spacingAndGlyphs">(Measured)</tspan></text>
<path d="M1512.5 1316.8H1567" stroke="#00b050" stroke-width="4.1" stroke-linecap="round"/>
<text y="1330.8" font-size="40.8" fill="#000" font-family="Liberation Sans, Arial, Helvetica, sans-serif"><tspan x="1572.97" textLength="84.02" lengthAdjust="spacingAndGlyphs">532 </tspan><tspan x="1655.11" textLength="74.10" lengthAdjust="spacingAndGlyphs">nm </tspan><tspan x="1728.21" textLength="146.64" lengthAdjust="spacingAndGlyphs">(RCWA)</tspan></text>
<circle cx="1539" cy="1393.8" r="5.8" stroke="#00b050" stroke-width="5.6" fill="none"/>
<text y="1407.5" font-size="40.8" fill="#000" font-family="Liberation Sans, Arial, Helvetica, sans-serif"><tspan x="1572.97" textLength="84.02" lengthAdjust="spacingAndGlyphs">532 </tspan><tspan x="1655.11" textLength="74.10" lengthAdjust="spacingAndGlyphs">nm </tspan><tspan x="1728.03" textLength="219.16" lengthAdjust="spacingAndGlyphs">(Measured)</tspan></text>
<path d="M1512.5 1470.2H1567" stroke="#ff0000" stroke-width="4.1" stroke-linecap="round"/>
<text y="1484.2" font-size="40.8" fill="#000" font-family="Liberation Sans, Arial, Helvetica, sans-serif"><tspan x="1572.53" textLength="84.29" lengthAdjust="spacingAndGlyphs">633 </tspan><tspan x="1655.11" textLength="74.10" lengthAdjust="spacingAndGlyphs">nm </tspan><tspan x="1728.21" textLength="146.64" lengthAdjust="spacingAndGlyphs">(RCWA)</tspan></text>
<circle cx="1539" cy="1547.2" r="5.8" stroke="#ff0000" stroke-width="5.6" fill="none"/>
<text y="1560.9" font-size="40.8" fill="#000" font-family="Liberation Sans, Arial, Helvetica, sans-serif"><tspan x="1572.53" textLength="84.29" lengthAdjust="spacingAndGlyphs">633 </tspan><tspan x="1655.11" textLength="74.10" lengthAdjust="spacingAndGlyphs">nm </tspan><tspan x="1728.03" textLength="219.16" lengthAdjust="spacingAndGlyphs">(Measured)</tspan></text>
</svg></body></html>
